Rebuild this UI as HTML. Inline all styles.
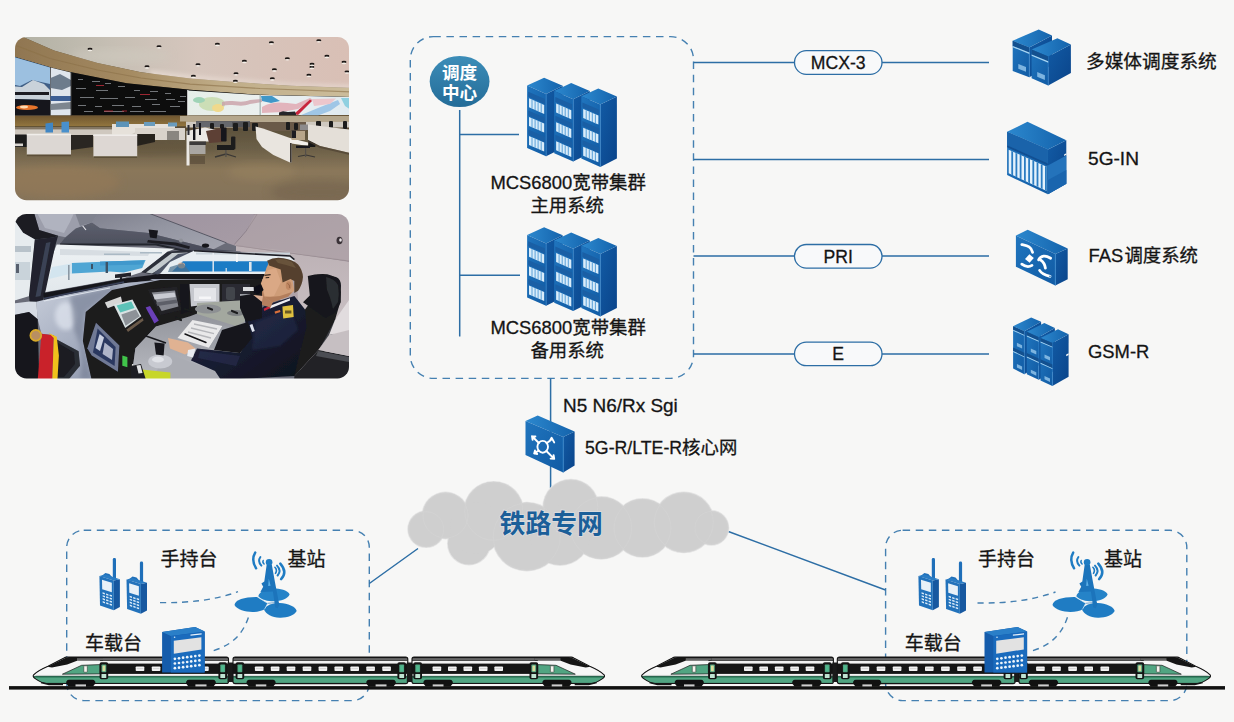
<!DOCTYPE html>
<html lang="zh">
<head>
<meta charset="utf-8">
<title>MCS6800 宽带集群调度系统组网图</title>
<style>
html,body{margin:0;padding:0;background:#f7f7f6}
body{width:1234px;height:722px;overflow:hidden;font-family:"Liberation Sans","Noto Sans CJK SC",sans-serif}
svg{display:block;position:absolute;left:0;top:0}
text{font-family:"Liberation Sans","Noto Sans CJK SC",sans-serif}
</style>
</head>
<body>
<svg width="1234" height="722" viewBox="0 0 1234 722" font-family="Liberation Sans, Noto Sans CJK SC, sans-serif">
<defs>

<clipPath id="cpP1"><rect x="15" y="37" width="334" height="163.2" rx="11.5"/></clipPath>
<clipPath id="cpP2"><rect x="15" y="214" width="334" height="164.4" rx="11.5"/></clipPath>
<filter id="bl05" x="-5%" y="-5%" width="110%" height="110%"><feGaussianBlur stdDeviation="0.5"/></filter>
<filter id="bl1" x="-10%" y="-10%" width="120%" height="120%"><feGaussianBlur stdDeviation="1"/></filter>
<filter id="bl2" x="-10%" y="-10%" width="120%" height="120%"><feGaussianBlur stdDeviation="2"/></filter>
<filter id="bl4" x="-20%" y="-20%" width="140%" height="140%"><feGaussianBlur stdDeviation="4"/></filter>
<linearGradient id="p1Floor" gradientUnits="userSpaceOnUse" x1="0" y1="126" x2="0" y2="200"><stop offset="0" stop-color="#5a4f3a"/><stop offset="0.3" stop-color="#6b5f47"/><stop offset="0.6" stop-color="#8a775a"/><stop offset="1" stop-color="#84725a"/></linearGradient>
<linearGradient id="p1Ceil" x1="0" y1="0" x2="1" y2="0"><stop offset="0" stop-color="#b0b0a3"/><stop offset="0.3" stop-color="#c6bfb4"/><stop offset="0.55" stop-color="#d6c6bd"/><stop offset="1" stop-color="#d9bfb5"/></linearGradient>
<linearGradient id="p1Wood" x1="0" y1="0" x2="1" y2="0"><stop offset="0" stop-color="#8f7550"/><stop offset="0.35" stop-color="#a58b62"/><stop offset="0.62" stop-color="#c0ad88"/><stop offset="1" stop-color="#ccbd9c"/></linearGradient>
<linearGradient id="p1Wood2" x1="0" y1="0" x2="0" y2="1"><stop offset="0" stop-color="#6f5630"/><stop offset="1" stop-color="#93763f"/></linearGradient>
<linearGradient id="p1Map" x1="0" y1="0" x2="1" y2="0"><stop offset="0" stop-color="#e6eee8"/><stop offset="0.5" stop-color="#ecf0f0"/><stop offset="1" stop-color="#dfeaf0"/></linearGradient>

<linearGradient id="p2Cowl" x1="0" y1="0" x2="1" y2="1"><stop offset="0" stop-color="#c9cfdb"/><stop offset="0.45" stop-color="#a7afc1"/><stop offset="1" stop-color="#8089a0"/></linearGradient>
<linearGradient id="p2Visor" x1="0" y1="0" x2="0" y2="1"><stop offset="0" stop-color="#5d606d"/><stop offset="1" stop-color="#474a58"/></linearGradient>
<linearGradient id="p2Strip" x1="0" y1="0" x2="1" y2="1"><stop offset="0" stop-color="#7c7e8b"/><stop offset="0.5" stop-color="#9496a2"/><stop offset="1" stop-color="#a4a5b0"/></linearGradient>
<linearGradient id="p2Ceil" x1="0" y1="0" x2="1" y2="1"><stop offset="0" stop-color="#9d93a0"/><stop offset="1" stop-color="#b3a6ab"/></linearGradient>
<linearGradient id="p2Wall" x1="0" y1="0" x2="0" y2="1"><stop offset="0" stop-color="#bcb1b5"/><stop offset="1" stop-color="#d2cacc"/></linearGradient>
<linearGradient id="p2Desk" x1="0" y1="0" x2="0" y2="1"><stop offset="0" stop-color="#8a8c93"/><stop offset="1" stop-color="#b9bbc2"/></linearGradient>
<linearGradient id="p2Jacket" x1="0" y1="0" x2="1" y2="1"><stop offset="0" stop-color="#222743"/><stop offset="0.6" stop-color="#161a2d"/><stop offset="1" stop-color="#0e101b"/></linearGradient>
<linearGradient id="p2Wind" x1="0" y1="0" x2="0" y2="1"><stop offset="0" stop-color="#eef2f4"/><stop offset="1" stop-color="#e2e8ec"/></linearGradient>


<linearGradient id="gCircle" x1="0" y1="0" x2="0" y2="1"><stop offset="0" stop-color="#3c8db8"/><stop offset="1" stop-color="#246c98"/></linearGradient>
<linearGradient id="gFront" x1="0" y1="0" x2="1" y2="1"><stop offset="0" stop-color="#2075be"/><stop offset="1" stop-color="#115ba4"/></linearGradient>
<linearGradient id="gTop" x1="0" y1="0" x2="1" y2="0"><stop offset="0" stop-color="#2c88ce"/><stop offset="1" stop-color="#1463ac"/></linearGradient>
<linearGradient id="gSide" x1="0" y1="0" x2="1" y2="1"><stop offset="0" stop-color="#125ba5"/><stop offset="1" stop-color="#0a448a"/></linearGradient>
<linearGradient id="gCloud" x1="0" y1="0" x2="0" y2="1"><stop offset="0" stop-color="#d4d4d4"/><stop offset="1" stop-color="#c8c8c8"/></linearGradient>
<g id="racks3"><polygon points="546.1,93.9 562.7,85.8 562.7,147.9 546.1,156.2" fill="url(#gSide)"/><polygon points="527.1,85.6 544.1,77.8 562.7,85.8 546.1,93.9" fill="url(#gTop)"/><polygon points="527.1,85.6 546.1,93.9 546.1,156.2 527.1,147.9" fill="url(#gFront)"/><path d="M546.1 93.9V156.2" stroke="#3a8fd6" stroke-width="0.6"/><polygon points="528.2,91.7 545.0,99.0 545.0,104.0 528.2,96.7" fill="#1a5fa5"/><polygon points="529.0,98.3 544.2,104.9 544.2,113.9 529.0,107.3" fill="#d9ecfa"/><path d="M532.0 99.6L532.0 108.6" stroke="#4b97d4" stroke-width="0.9"/><path d="M535.1 100.9L535.1 110.0" stroke="#4b97d4" stroke-width="0.9"/><path d="M538.1 102.3L538.1 111.3" stroke="#4b97d4" stroke-width="0.9"/><path d="M541.2 103.6L541.2 112.6" stroke="#4b97d4" stroke-width="0.9"/><polygon points="528.2,110.4 545.0,117.7 545.0,122.7 528.2,115.4" fill="#1a5fa5"/><polygon points="529.0,117.0 544.2,123.6 544.2,132.6 529.0,126.0" fill="#d9ecfa"/><path d="M532.0 118.3L532.0 127.3" stroke="#4b97d4" stroke-width="0.9"/><path d="M535.1 119.6L535.1 128.6" stroke="#4b97d4" stroke-width="0.9"/><path d="M538.1 120.9L538.1 130.0" stroke="#4b97d4" stroke-width="0.9"/><path d="M541.2 122.3L541.2 131.3" stroke="#4b97d4" stroke-width="0.9"/><polygon points="528.2,129.4 545.0,136.7 545.0,141.7 528.2,134.4" fill="#1a5fa5"/><polygon points="529.0,136.0 544.2,142.6 544.2,151.6 529.0,145.0" fill="#d9ecfa"/><path d="M532.0 137.3L532.0 146.3" stroke="#4b97d4" stroke-width="0.9"/><path d="M535.1 138.6L535.1 147.6" stroke="#4b97d4" stroke-width="0.9"/><path d="M538.1 139.9L538.1 149.0" stroke="#4b97d4" stroke-width="0.9"/><path d="M541.2 141.3L541.2 150.3" stroke="#4b97d4" stroke-width="0.9"/><polygon points="573.2,99.2 589.8,91.1 589.8,153.2 573.2,161.5" fill="url(#gSide)"/><polygon points="554.2,90.9 571.2,83.1 589.8,91.1 573.2,99.2" fill="url(#gTop)"/><polygon points="554.2,90.9 573.2,99.2 573.2,161.5 554.2,153.2" fill="url(#gFront)"/><path d="M573.2 99.2V161.5" stroke="#3a8fd6" stroke-width="0.6"/><polygon points="555.3,97.0 572.1,104.3 572.1,109.3 555.3,102.0" fill="#1a5fa5"/><polygon points="556.1,103.6 571.3,110.2 571.3,119.2 556.1,112.6" fill="#d9ecfa"/><path d="M559.1 104.9L559.1 113.9" stroke="#4b97d4" stroke-width="0.9"/><path d="M562.2 106.2L562.2 115.3" stroke="#4b97d4" stroke-width="0.9"/><path d="M565.2 107.6L565.2 116.6" stroke="#4b97d4" stroke-width="0.9"/><path d="M568.3 108.9L568.3 117.9" stroke="#4b97d4" stroke-width="0.9"/><polygon points="555.3,115.7 572.1,123.0 572.1,128.0 555.3,120.7" fill="#1a5fa5"/><polygon points="556.1,122.3 571.3,128.9 571.3,137.9 556.1,131.3" fill="#d9ecfa"/><path d="M559.1 123.6L559.1 132.6" stroke="#4b97d4" stroke-width="0.9"/><path d="M562.2 124.9L562.2 133.9" stroke="#4b97d4" stroke-width="0.9"/><path d="M565.2 126.2L565.2 135.3" stroke="#4b97d4" stroke-width="0.9"/><path d="M568.3 127.6L568.3 136.6" stroke="#4b97d4" stroke-width="0.9"/><polygon points="555.3,134.7 572.1,142.0 572.1,147.0 555.3,139.7" fill="#1a5fa5"/><polygon points="556.1,141.3 571.3,147.9 571.3,156.9 556.1,150.3" fill="#d9ecfa"/><path d="M559.1 142.6L559.1 151.6" stroke="#4b97d4" stroke-width="0.9"/><path d="M562.2 143.9L562.2 152.9" stroke="#4b97d4" stroke-width="0.9"/><path d="M565.2 145.2L565.2 154.3" stroke="#4b97d4" stroke-width="0.9"/><path d="M568.3 146.6L568.3 155.6" stroke="#4b97d4" stroke-width="0.9"/><polygon points="600.3,104.6 616.9,96.5 616.9,158.6 600.3,166.9" fill="url(#gSide)"/><polygon points="581.3,96.3 598.3,88.5 616.9,96.5 600.3,104.6" fill="url(#gTop)"/><polygon points="581.3,96.3 600.3,104.6 600.3,166.9 581.3,158.6" fill="url(#gFront)"/><path d="M600.3 104.6V166.9" stroke="#3a8fd6" stroke-width="0.6"/><polygon points="582.4,102.4 599.2,109.7 599.2,114.7 582.4,107.4" fill="#1a5fa5"/><polygon points="583.2,109.0 598.4,115.6 598.4,124.6 583.2,118.0" fill="#d9ecfa"/><path d="M586.2 110.3L586.2 119.3" stroke="#4b97d4" stroke-width="0.9"/><path d="M589.3 111.6L589.3 120.7" stroke="#4b97d4" stroke-width="0.9"/><path d="M592.3 113.0L592.3 122.0" stroke="#4b97d4" stroke-width="0.9"/><path d="M595.4 114.3L595.4 123.3" stroke="#4b97d4" stroke-width="0.9"/><polygon points="582.4,121.1 599.2,128.4 599.2,133.4 582.4,126.1" fill="#1a5fa5"/><polygon points="583.2,127.7 598.4,134.3 598.4,143.3 583.2,136.7" fill="#d9ecfa"/><path d="M586.2 129.0L586.2 138.0" stroke="#4b97d4" stroke-width="0.9"/><path d="M589.3 130.3L589.3 139.3" stroke="#4b97d4" stroke-width="0.9"/><path d="M592.3 131.6L592.3 140.7" stroke="#4b97d4" stroke-width="0.9"/><path d="M595.4 133.0L595.4 142.0" stroke="#4b97d4" stroke-width="0.9"/><polygon points="582.4,140.1 599.2,147.4 599.2,152.4 582.4,145.1" fill="#1a5fa5"/><polygon points="583.2,146.7 598.4,153.3 598.4,162.3 583.2,155.7" fill="#d9ecfa"/><path d="M586.2 148.0L586.2 157.0" stroke="#4b97d4" stroke-width="0.9"/><path d="M589.3 149.3L589.3 158.3" stroke="#4b97d4" stroke-width="0.9"/><path d="M592.3 150.6L592.3 159.7" stroke="#4b97d4" stroke-width="0.9"/><path d="M595.4 152.0L595.4 161.0" stroke="#4b97d4" stroke-width="0.9"/></g>

</defs>
<rect width="1234" height="722" fill="#f7f7f6"/>
<g clip-path="url(#cpP1)"><g filter="url(#bl05)">
<rect x="10" y="32" width="344" height="173" fill="url(#p1Floor)"/>
<ellipse cx="60" cy="182" rx="60" ry="16" fill="#9a7b58" opacity="0.45" filter="url(#bl4)"/><ellipse cx="262" cy="172" rx="34" ry="9" fill="#9a8460" opacity="0.5" filter="url(#bl4)"/>
<ellipse cx="120" cy="148" rx="100" ry="8" fill="#5f4f39" opacity="0.35" filter="url(#bl2)"/>
<ellipse cx="320" cy="192" rx="50" ry="12" fill="#6f6049" opacity="0.5" filter="url(#bl4)"/>
<path d="M10 30H354V90L349 87.7L290 85.8L230 81.7L190 78.5L141 72.3L97.5 63L54 50.5L23 37L10 30Z" fill="url(#p1Ceil)"/>
<path d="M150 70L190 75L230 78.5L290 83L354 85V90L150 78Z" fill="#e8dbd3" opacity="0.8" filter="url(#bl2)"/>
<ellipse cx="120" cy="56" rx="50" ry="7" fill="#cfcabf" opacity="0.6" filter="url(#bl4)"/>
<path d="M10 30L23 37L54 50.5L97.5 63L141 72.3L190 78.5L230 81.7L290 85.8L354 88V97L260 94.8L190 89.8L126.7 83.2L71.3 72.3L50 67.2L15 57L10 55Z" fill="url(#p1Wood)"/>
<path d="M12 44L50 58.5L97.5 70L141 78L190 84.2L260 88.5L354 92" fill="none" stroke="#8a7048" stroke-width="1.2" opacity="0.6"/>
<path d="M10 55L15 57L50 67.2L71.3 72.3L126.7 83.2L190 89.8L260 94.8L354 97V115L10 115.6Z" fill="#0b0b0c"/>
<path d="M10 55L15 57L50 67.2V115.4H10Z" fill="#3f5f86"/>
<path d="M10 56L50 67.6V84L32 80L20 86L10 84Z" fill="#9cc0e0"/>
<path d="M10 86L22 87L33 80L44 84L50 90V100L10 99Z" fill="#c9d2da"/>
<path d="M10 99L50 100V115.4H10Z" fill="#15181f"/>
<ellipse cx="27" cy="107.5" rx="11" ry="2.6" fill="#e8742c"/><ellipse cx="24" cy="107" rx="4" ry="1.4" fill="#ffd9b0"/>
<path d="M15 92H49V95H15Z" fill="#1a1d24"/>
<path d="M50.6 67.6L71 72.4V115.4H50.6Z" fill="#dfe5ec"/>
<path d="M50.6 78L60 74L71 80V86L62 90L50.6 88Z" fill="#6d7b8c"/><path d="M50.6 96H71V101H50.6Z" fill="#3c5f94"/><path d="M50.6 104L71 102V109L50.6 110Z" fill="#7d868f"/>
<rect x="78" y="79" width="5" height="1" fill="#c9ccd4" opacity="0.55"/>
<rect x="92" y="81" width="8" height="1" fill="#c9ccd4" opacity="0.55"/>
<rect x="105" y="83" width="6" height="1" fill="#c9ccd4" opacity="0.55"/>
<rect x="76" y="88" width="10" height="1" fill="#c9ccd4" opacity="0.55"/>
<rect x="96" y="90" width="12" height="1" fill="#c9ccd4" opacity="0.55"/>
<rect x="118" y="86" width="7" height="1" fill="#c9ccd4" opacity="0.55"/>
<rect x="134" y="90" width="6" height="1" fill="#c9ccd4" opacity="0.55"/>
<rect x="150" y="91" width="8" height="1" fill="#c9ccd4" opacity="0.55"/>
<rect x="165" y="93" width="6" height="1" fill="#c9ccd4" opacity="0.55"/>
<rect x="80" y="97" width="14" height="1" fill="#c9ccd4" opacity="0.55"/>
<rect x="100" y="98" width="18" height="1" fill="#c9ccd4" opacity="0.55"/>
<rect x="125" y="97" width="10" height="1" fill="#c9ccd4" opacity="0.55"/>
<rect x="145" y="99" width="12" height="1" fill="#c9ccd4" opacity="0.55"/>
<rect x="166" y="99" width="9" height="1" fill="#c9ccd4" opacity="0.55"/>
<rect x="78" y="105" width="8" height="1" fill="#c9ccd4" opacity="0.55"/>
<rect x="95" y="106" width="7" height="1" fill="#c9ccd4" opacity="0.55"/>
<rect x="112" y="105" width="12" height="1" fill="#c9ccd4" opacity="0.55"/>
<rect x="132" y="106" width="9" height="1" fill="#c9ccd4" opacity="0.55"/>
<rect x="152" y="104" width="8" height="1" fill="#c9ccd4" opacity="0.55"/>
<rect x="170" y="106" width="10" height="1" fill="#c9ccd4" opacity="0.55"/>
<rect x="180" y="96" width="6" height="1" fill="#c9ccd4" opacity="0.55"/>
<rect x="178" y="101" width="7" height="1" fill="#c9ccd4" opacity="0.55"/>
<rect x="84" y="111" width="9" height="1" fill="#c9ccd4" opacity="0.55"/>
<rect x="104" y="111" width="20" height="1" fill="#c9ccd4" opacity="0.55"/>
<rect x="130" y="111" width="14" height="1" fill="#c9ccd4" opacity="0.55"/>
<rect x="150" y="111" width="16" height="1" fill="#c9ccd4" opacity="0.55"/>
<rect x="96" y="85" width="8" height="1" fill="#c0303a" opacity="0.8"/>
<rect x="140" y="94" width="10" height="1" fill="#c0303a" opacity="0.8"/>
<rect x="104" y="110.5" width="9" height="1" fill="#c0303a" opacity="0.8"/>
<rect x="122" y="110.5" width="5" height="1" fill="#c0303a" opacity="0.8"/>
<rect x="70.6" y="72" width="1.4" height="44" fill="#2a2a2a"/>
<path d="M188 90.6L260 95L354 97V115L188 115.7Z" fill="url(#p1Map)"/>
<ellipse cx="212" cy="104" rx="13" ry="7" fill="#c9dcb0" opacity="0.9"/><ellipse cx="218" cy="108" rx="6" ry="4" fill="#f0d98c"/><ellipse cx="199" cy="100" rx="6" ry="3" fill="#9fd3b6"/>
<path d="M222 102C232 99 240 104 250 100L262 99V102L250 104C240 108 232 103 222 106Z" fill="#c9a0a8" opacity="0.8"/>
<path d="M261 96H272L280 101L271 103L262 101Z" fill="#3f97c8"/>
<path d="M262 107C274 100 284 103 296 104L310 98L313 100L298 109L282 112L262 113Z" fill="#e2b4bc"/>
<path d="M294 114L310 99.5L312 101L298 115Z" fill="#c8283c"/>
<path d="M300 115.5L318 108L338 100L340 104L330 111L318 115.5Z" fill="#9fc6e6"/>
<path d="M312 99L336 98.5L330 104L314 106Z" fill="#ecc6cc"/>
<path d="M341 98L354 98V112L345 106Z" fill="#8fd0e0"/>
<rect x="259.6" y="94.5" width="1.1" height="21" fill="#9aa"/>
<path d="M279 115.6V112.4L283 111.2L288 112L295 111.4L296.5 115.6Z" fill="#26262c"/>
<rect x="187.2" y="90" width="1.2" height="26" fill="#eee"/>
<rect x="10" y="115.5" width="344" height="11" fill="url(#p1Wood2)"/>
<path d="M180 116H354V121.5H180Z" fill="#bfb49c" opacity="0.85"/>
<rect x="10" y="127" width="130" height="9" fill="#cfc8bf"/>
<rect x="10" y="126" width="344" height="3.4" fill="#5b4a32" opacity="0.65"/>
<path d="M112 124H175V130H140L130 135H112Z" fill="#e6e1da"/>
<path d="M135 128H185V140H150L135 136Z" fill="#d9d3cb"/>
<rect x="167" y="131" width="12" height="9" fill="#8a8680"/>
<path d="M186 121.5H354V127.5H186Z" fill="#cfc9c0"/>
<path d="M232 122H306V131H256L232 127Z" fill="#6a5a48"/>
<path d="M196 121H250V127H196Z" fill="#4b4f58" opacity="0.8"/>
<rect x="233" y="123" width="5" height="8" rx="1" fill="#1d1c1e"/>
<rect x="243" y="122" width="5" height="9" rx="1" fill="#1d1c1e"/>
<rect x="252" y="123" width="6" height="8" rx="1" fill="#1d1c1e"/>
<rect x="286" y="122" width="4" height="8" rx="1" fill="#1d1c1e"/>
<rect x="294" y="123" width="4" height="7" rx="1" fill="#1d1c1e"/>
<rect x="316" y="121" width="5" height="6" rx="1" fill="#1d1c1e"/>
<rect x="329" y="121" width="4" height="7" rx="1" fill="#1d1c1e"/>
<rect x="343" y="121" width="4" height="8" rx="1" fill="#1d1c1e"/>
<rect x="210" y="123" width="4" height="8" rx="1" fill="#1d1c1e"/>
<rect x="220" y="124" width="4" height="7" rx="1" fill="#1d1c1e"/>
<path d="M45.5 123.5L53 122.5V132.5H45.5Z" fill="#3f86c4"/><path d="M61.5 122L69 121.5V132.5H61.5Z" fill="#4a90cc"/>
<rect x="116" y="121.5" width="13" height="5.5" fill="#5b93b8"/><rect x="144" y="122" width="11" height="4" fill="#6a9cbd"/><rect x="168" y="122.5" width="9" height="4" fill="#6a9cbd"/>
<path d="M15 134.5H27V147H15Z" fill="#1b1a1c"/><path d="M71 135H93V147L71 150Z" fill="#2a2622"/><path d="M137 134H155V142L137 146Z" fill="#28231f"/>
<rect x="15" y="143.5" width="8" height="2.6" fill="#d8d4cf"/>
<rect x="26.8" y="133.8" width="44.2" height="20.8" fill="#dcd7d3"/><rect x="26.8" y="133.8" width="44.2" height="1.5" fill="#f1eeeb"/>
<rect x="93.4" y="134.4" width="43.8" height="22" fill="#ddd7d3"/><rect x="93.4" y="134.4" width="43.8" height="1.5" fill="#f1eeeb"/>
<rect x="27" y="154.6" width="44" height="1.6" fill="#4d3f2c" opacity="0.6"/><rect x="94" y="156.4" width="43" height="1.6" fill="#4d3f2c" opacity="0.6"/>
<path d="M186.5 131L205 127.5L222 131L210.5 141.5H189.5V165.5H186.5Z" fill="#ece9e5"/>
<rect x="189.5" y="145" width="16" height="9" fill="#a9a6a2"/><path d="M189.5 141.5H206V145H189.5Z" fill="#3c3a3a"/>
<path d="M190 156H205V164H190Z" fill="#5a4c3a" opacity="0.7"/>
<rect x="193" y="124" width="2.4" height="16" fill="#15161a"/><rect x="199" y="123" width="2" height="12" fill="#15161a"/><rect x="187.5" y="125" width="2" height="10" fill="#2a2c33"/>
<path d="M206 131L222 128L226 133L222 142L209 143Z" fill="#5d3f34"/>
<rect x="221" y="127.5" width="5.6" height="14" rx="1" fill="#17171a"/>
<path d="M217 145H234V150H217Z" fill="#1a1a1c"/><rect x="231" y="136.5" width="4.4" height="13" rx="1" fill="#1c1c1f"/>
<path d="M215 157L226 154L236 157" fill="none" stroke="#3a3734" stroke-width="1.3"/><rect x="225.2" y="150" width="1.4" height="7" fill="#55504a"/>
<path d="M255.5 126.5L263 128.5L290 138V162.5L273.4 155L262 147L256.5 139Z" fill="#e9e5df"/>
<path d="M290 138L308 142.5V146L291.5 143.5V162.5H290Z" fill="#f2efeb"/><rect x="290" y="143" width="1.6" height="19.5" fill="#3a3530"/>
<path d="M291.5 131H305V140H291.5Z" fill="#b7a58a"/><rect x="300" y="124.5" width="8" height="5.5" fill="#8d8b8c"/>
<rect x="308.5" y="134" width="7" height="13" rx="1" fill="#141416"/><path d="M296 145.5H310V148H296Z" fill="#19191b"/><rect x="291.6" y="130.5" width="4.4" height="7.5" fill="#1d1d20"/>
<path d="M298 156.5L306 155L315 157" fill="none" stroke="#3a3734" stroke-width="1.2"/><rect x="305" y="148" width="1.2" height="9" fill="#55504a"/>
<path d="M308 124.5L354 130V154L320 146L308 140Z" fill="#e4dfd8"/><path d="M308 140L320 146L354 154V156L320 148L308 142Z" fill="#4f4232" opacity="0.7"/>
<ellipse cx="90" cy="49" rx="2.5" ry="1.2" fill="#1a1815"/><ellipse cx="90" cy="50.4" rx="2.2" ry="0.8" fill="#fbf6f0" opacity="0.9"/>
<ellipse cx="159" cy="46.4" rx="2.5" ry="1.2" fill="#1a1815"/><ellipse cx="159" cy="47.8" rx="2.2" ry="0.8" fill="#fbf6f0" opacity="0.9"/>
<ellipse cx="217.4" cy="44" rx="2.5" ry="1.2" fill="#1a1815"/><ellipse cx="217.4" cy="45.4" rx="2.2" ry="0.8" fill="#fbf6f0" opacity="0.9"/>
<ellipse cx="271.4" cy="42.5" rx="2.5" ry="1.2" fill="#1a1815"/><ellipse cx="271.4" cy="43.9" rx="2.2" ry="0.8" fill="#fbf6f0" opacity="0.9"/>
<ellipse cx="318.8" cy="40.4" rx="2.5" ry="1.2" fill="#1a1815"/><ellipse cx="318.8" cy="41.8" rx="2.2" ry="0.8" fill="#fbf6f0" opacity="0.9"/>
<ellipse cx="147" cy="66.5" rx="2.5" ry="1.2" fill="#1a1815"/><ellipse cx="147" cy="67.9" rx="2.2" ry="0.8" fill="#fbf6f0" opacity="0.9"/>
<ellipse cx="198" cy="64.4" rx="2.5" ry="1.2" fill="#1a1815"/><ellipse cx="198" cy="65.80000000000001" rx="2.2" ry="0.8" fill="#fbf6f0" opacity="0.9"/>
<ellipse cx="244.4" cy="61" rx="2.5" ry="1.2" fill="#1a1815"/><ellipse cx="244.4" cy="62.4" rx="2.2" ry="0.8" fill="#fbf6f0" opacity="0.9"/>
<ellipse cx="287.3" cy="58.4" rx="2.5" ry="1.2" fill="#1a1815"/><ellipse cx="287.3" cy="59.8" rx="2.2" ry="0.8" fill="#fbf6f0" opacity="0.9"/>
<ellipse cx="326.9" cy="56" rx="2.5" ry="1.2" fill="#1a1815"/><ellipse cx="326.9" cy="57.4" rx="2.2" ry="0.8" fill="#fbf6f0" opacity="0.9"/>
<ellipse cx="193.4" cy="76" rx="2.5" ry="1.2" fill="#1a1815"/><ellipse cx="193.4" cy="77.4" rx="2.2" ry="0.8" fill="#fbf6f0" opacity="0.9"/>
<ellipse cx="236" cy="73.4" rx="2.5" ry="1.2" fill="#1a1815"/><ellipse cx="236" cy="74.80000000000001" rx="2.2" ry="0.8" fill="#fbf6f0" opacity="0.9"/>
<ellipse cx="274.4" cy="69.5" rx="2.5" ry="1.2" fill="#1a1815"/><ellipse cx="274.4" cy="70.9" rx="2.2" ry="0.8" fill="#fbf6f0" opacity="0.9"/>
<ellipse cx="311.9" cy="67" rx="2.5" ry="1.2" fill="#1a1815"/><ellipse cx="311.9" cy="68.4" rx="2.2" ry="0.8" fill="#fbf6f0" opacity="0.9"/>
<ellipse cx="347" cy="71.6" rx="2.5" ry="1.2" fill="#1a1815"/><ellipse cx="347" cy="73.0" rx="2.2" ry="0.8" fill="#fbf6f0" opacity="0.9"/>
<ellipse cx="235.4" cy="80.9" rx="2.5" ry="1.2" fill="#1a1815"/><ellipse cx="235.4" cy="82.30000000000001" rx="2.2" ry="0.8" fill="#fbf6f0" opacity="0.9"/>
<ellipse cx="272.3" cy="78.5" rx="2.5" ry="1.2" fill="#1a1815"/><ellipse cx="272.3" cy="79.9" rx="2.2" ry="0.8" fill="#fbf6f0" opacity="0.9"/>
<ellipse cx="308.9" cy="74.9" rx="2.5" ry="1.2" fill="#1a1815"/><ellipse cx="308.9" cy="76.30000000000001" rx="2.2" ry="0.8" fill="#fbf6f0" opacity="0.9"/>
<ellipse cx="312" cy="64" rx="2.5" ry="1.2" fill="#1a1815"/><ellipse cx="312" cy="65.4" rx="2.2" ry="0.8" fill="#fbf6f0" opacity="0.9"/>
<ellipse cx="344" cy="62" rx="2.5" ry="1.2" fill="#1a1815"/><ellipse cx="344" cy="63.4" rx="2.2" ry="0.8" fill="#fbf6f0" opacity="0.9"/>
</g></g>
<g clip-path="url(#cpP2)"><g filter="url(#bl05)">
<rect x="10" y="210" width="344" height="173" fill="#6a6c78"/>
<path d="M138 210H354V300H280L236 246L226.4 242.8Z" fill="url(#p2Ceil)"/>
<path d="M236 245.5L280 250L349 262V378H300L297 268L290 256L236 251Z" fill="url(#p2Wall)"/>
<path d="M236 245.5L349 261" stroke="#8d8088" stroke-width="1.1" fill="none"/>
<path d="M237.6 210L257 214.4L246 231.4L234.5 244.4" stroke="#7a6f7a" stroke-width="0.8" fill="none"/>
<path d="M257 210L246 231.4L234.5 244.4L236 246L354 262V210Z" fill="#b3a6aa" opacity="0.55"/>
<ellipse cx="339.5" cy="240.5" rx="3" ry="3.8" fill="#3a3338"/><ellipse cx="340.5" cy="240" rx="1.3" ry="1.8" fill="#e9e4e6"/>
<path d="M88 210H140.5L226.4 242.8L213.5 249.3L148.6 233L100 228.2L91.7 222.6Z" fill="url(#p2Strip)"/>
<path d="M140.5 210L226.4 242.8" stroke="#3d3f4c" stroke-width="1" fill="none" opacity="0.7"/>
<path d="M59.6 244.5L65.4 237.2L75.6 228.4L91.7 222.6L100 228.2L148.6 233L213.5 249.3L236 251L190.8 252.4L177.8 250L156 244.5Z" fill="url(#p2Visor)"/>
<path d="M60 244.5L156 244.5L190 252" stroke="#23252d" stroke-width="2.2" fill="none"/>
<path d="M148.6 229.5l9.4 1 -1.4 8 -6.6 -1z" fill="#16171c"/><path d="M148 240l28 2.6 14 4 -1 2.4 -14 -3.4 -28 -3z" fill="#1b1c22"/><circle cx="181" cy="240.4" r="2" fill="#8f929a"/><ellipse cx="205.5" cy="245.6" rx="3.6" ry="2.2" fill="#17181d"/><path d="M82 225l4 5" stroke="#e6e6ea" stroke-width="1.2"/>
<path d="M33 210H101L91.7 222.6L75.6 228.4L65.4 237.2L58.1 235.7L39.2 229.9Z" fill="#9c9eab"/>
<path d="M37 213H74L70 222L64 233L45 228Z" fill="#b4b6c2" opacity="0.85"/><path d="M74 210H101L91.7 222.6L80 226Z" fill="#6d6f7c" opacity="0.6"/>
<path d="M10 210H33.3L39.2 229.9L58.1 235.7L53.8 237.4L34.8 239.6L23.1 232.8L15.8 222.6L10 220Z" fill="#1b1c23"/>
<path d="M10 218L16 222.6L23.1 232.8L35 239.5L29.5 296L10 302Z" fill="#e6ebee"/>
<path d="M15 246H31V252H15Z" fill="#b8c2ca"/><path d="M15 262H30V280H15Z" fill="#c9d3da"/><rect x="16" y="264" width="3" height="9" fill="#58616e"/>
<path d="M56.7 244.5L174.8 248.8L167.5 251.8L141.3 272.2L123.8 278L43.5 292.6L45 280.9L53.8 251.8Z" fill="url(#p2Wind)"/>
<path d="M60 249L150 252L148 256L60 255Z" fill="#d7dde2"/>
<path d="M71.8 262.9L145.6 260L142.2 268.1L123.8 272.6L109.7 271.4L71.8 273.4Z" fill="#4fa6d4"/>
<path d="M52 267L71.8 263.4V273.4L49 279Z" fill="#d3e5ef"/>
<path d="M100 261.6L144 260.4L143 264.6L100 265.6Z" fill="#3f98cc"/>
<rect x="68" y="265" width="1.6" height="15" fill="#8b98a4"/><rect x="105.6" y="262" width="2.4" height="11" fill="#3d5266"/><rect x="91" y="264" width="2" height="5" fill="#3d5266"/>
<path d="M104 253.5h26v1.6h-26zM140 252h22v1.6h-22z" fill="#aab9c4"/>
<path d="M115 274.5L131 272.5V276L122 277.5V286H120V277.8L115 278Z" fill="#20222a"/>
<path d="M53.8 237.2L58.1 235.7L55.2 245.9L45.8 290L42.5 302H29.6L29 295.5L34.8 239.4Z" fill="#22242d"/>
<path d="M46 243L50.5 242L40.5 296L35.5 297Z" fill="#3d4759" opacity="0.9"/>
<path d="M167.5 251.8L190 250L198 252L176 262L155.9 275L141.3 272.2Z" fill="#2b2e38"/>
<path d="M172 253L188 252.5L152 273.5L146 272.5Z" fill="#dfe6ea" opacity="0.85"/>
<path d="M178 254L194 252L158 274L153 273.6Z" fill="#4d5466"/>
<path d="M170 262L194 250.7L290 256L294.4 259.7L289 274H160Z" fill="#e7edf1"/>
<path d="M183 261.3H268V271.6H172Z" fill="#1f7bc5"/>
<path d="M196 252.5H290V254.6H196Z" fill="#c9d3da"/>
<rect x="212.5" y="252" width="1.4" height="20" fill="#e9eef2"/><rect x="236" y="253" width="1.8" height="9" fill="#f4f6f8"/><rect x="249" y="262" width="2.6" height="9" fill="#dfe6ec"/><rect x="225.6" y="268" width="1.2" height="4" fill="#dfe6ec"/>
<ellipse cx="181.5" cy="265.5" rx="3.6" ry="3" fill="#d9b49c"/><path d="M170 267L183 263L190 272H168Z" fill="#4a6f8c" opacity="0.7"/>
<path d="M194 250.7L290 256L294.4 259.7" stroke="#1d1f25" stroke-width="1.6" fill="none"/>
<path d="M43.5 293L123.8 278.4L160 274H290V279.5L165 279L126 283L60 296L44 302Z" fill="#17181d"/>
<path d="M150 279L262 279L262 288L190 290L160 284Z" fill="#9aa0b0"/>
<path d="M36.3 301.7L60 296L126 283L160 280L112 292L85.8 311.9L82.9 341L91.7 380H66L80 365.8L78.6 351.3L56.7 339.6L53.8 335.2L41.4 333.8L37.7 319.2Z" fill="url(#p2Cowl)"/>
<ellipse cx="66" cy="316" rx="11" ry="14" fill="#dfe4ee" opacity="0.75" filter="url(#bl2)"/>
<path d="M70 296L124 284L112 292L86 312L83 341L91.7 380H80L82 362L80 345L74 330L72 310Z" fill="#7a8398" opacity="0.7" filter="url(#bl2)"/>
<path d="M44 298.5L124 282" stroke="#39415a" stroke-width="1.6" fill="none"/><path d="M44 301L110 288" stroke="#e9edf4" stroke-width="1.2" fill="none" opacity="0.8"/>
<path d="M10 304L29.6 301.5L36.3 301.7L37.7 319.2L29 312L10 316Z" fill="#d6dbe3"/>
<path d="M10 316L29 311.9L37.7 319.2L39.2 380H10Z" fill="#14151b"/>
<path d="M56.7 339.6L78.6 351.3L80 365.8L68.3 380H56Z" fill="#2a2d36"/><path d="M58 343L74 352.5L75 364L64 377H58Z" fill="#1a1c23"/>
<path d="M41.4 333.8L53.8 335.2L52.3 380H37.7Z" fill="#c9202c"/>
<path d="M48.7 333L56.7 336.7L58.9 355.6L57.4 380H52.3L53.8 338Z" fill="#f0c21c"/>
<circle cx="35.8" cy="335.4" r="5.4" fill="#b98f62" stroke="#d9aa2c" stroke-width="1.8"/>
<path d="M112 290L160 280L262 279V300L190 319.2L155.9 326.5L135.4 348.3L131.1 380H91.7L82.9 341L85.8 311.9Z" fill="#1b1a1d"/>
<path d="M104.8 302.4L120.9 296.6L122.3 302.4L107.7 308.2Z" fill="#d6d6d6"/>
<path d="M113.6 304.6L132.5 299.5L141.3 316.3L125.2 327.9Z" fill="#d9e2e3"/><path d="M116.6 305.6L131.3 301.6L134.5 308L120.3 312.6Z" fill="#5cc2b8"/><path d="M121.3 314.6L136 309.6L139.8 316.2L125.6 325.8Z" fill="#8d9298"/>
<path d="M126.4 329.6L142.6 318L143.6 320.6L128 332Z" fill="#6b5a4a"/>
<path d="M147.7 289.4L177 286.8L181.6 310L160.1 315Z" fill="#232326"/><path d="M151.6 292.6L175 290.4L178.4 306.4L161.6 311Z" fill="#85878f"/><path d="M153 294.6L174.6 292.4L175.6 297L154.6 299.6Z" fill="#c9cbd2"/><path d="M156 302.4L176.6 299.6L177.4 303L157.4 306Z" fill="#5d5f68"/>
<path d="M145.6 307.5L150 306L158.8 320.6L154.4 323.5Z" fill="#6a3fb8"/>
<path d="M96 322.8L119.4 345.4L117.9 371.7L91.7 355.6L87.3 348.3Z" fill="#6f7995"/><path d="M97.6 328.6L115.6 347L114.6 366L93 352.6Z" fill="#2c3860"/><path d="M99.6 334L104 337.6L100 351L95.5 348Z" fill="#c9cfe0"/><path d="M104.6 342.6L113 349L112 360L102.6 354Z" fill="#aeb4c9"/>
<path d="M122.3 355.6L127.4 357.1V367.3L122.3 365.8Z" fill="#3fc44a"/>
<path d="M132 364H150V380H131Z" fill="#d9d9d6"/><path d="M136 366h5v8h-5z" fill="#55585e"/>
<path d="M189.5 284H219.5V303L191 306.5Z" fill="#c6c8ce"/><rect x="194" y="288" width="22" height="13" fill="#e3e4e8"/><rect x="199" y="296.5" width="12" height="2.6" fill="#f6f6f8"/>
<path d="M180 284H189V311L181 314Z" fill="#19191c"/>
<path d="M222 284H250V300L222 304Z" fill="#2a2b30"/><rect x="226" y="287" width="9" height="13" rx="2" fill="#43454c"/><rect x="243" y="287" width="12" height="4" fill="#dcdde0"/><rect x="240" y="294" width="10" height="5" fill="#9a9ca3"/>
<path d="M155.9 326.5L190 316.3L222 304L250 300L256 330L222 372L221 380H131.1L135.4 348.3Z" fill="url(#p2Desk)"/>
<path d="M197 303L247 300L248 320L236 326L197 314Z" fill="#a3a89f"/>
<ellipse cx="208" cy="309" rx="13" ry="4.5" fill="#8d9093"/><ellipse cx="236" cy="313" rx="9" ry="3" fill="#7d8082"/>
<path d="M185 309l6 2M176 318l5 2M208 308l4 1.5M232 311l5 2" stroke="#1a1b1e" stroke-width="2.2" stroke-linecap="round"/>
<path d="M170 354.5L215 371L221 380H150L160 366Z" fill="#aaacb3"/>
<ellipse cx="160.2" cy="361.5" rx="12" ry="7" fill="#c8cad1"/><ellipse cx="158" cy="359.5" rx="6" ry="3" fill="#e6e7ec" opacity="0.8"/>
<path d="M154.4 342.5L164.6 343.5L163.6 355.6L156 354.5Z" fill="#15161a"/>
<path d="M146 336L166 343" stroke="#18191d" stroke-width="1.6"/>
<path d="M141.3 369.5L170.4 372.4V380H146Z" fill="#c7d629"/>
<path d="M131 366L141 364L146 380H131Z" fill="#1c1d21"/><path d="M136.5 365.5l4 -.6 2 8 -4 .6z" fill="#e3e4e6"/>
<path d="M192.5 320L222.5 326L209 347.7L177.5 338Z" fill="#e9e9ea"/><path d="M194 324L217 329M191 328L214 333.6M188 332L211 338" stroke="#b5b6ba" stroke-width="1.3"/>
<path d="M185 334L206 342.5" stroke="#141418" stroke-width="1.5" stroke-linecap="round"/>
<path d="M222.5 326L229 327L218 349L209 347.7Z" fill="#9da0a8"/>
<path d="M305 309.5L312 300L311 280Q313 274 322 274.5L336 277Q341 279 341 286L339.4 305L335 320L329 335L318.4 350L294.4 376H286L300 350Z" fill="#1a1b1e"/>
<path d="M318 352L336 318L339 322L322 356Z" fill="#3f4146"/>
<path d="M294.4 376L318.4 350L349 356V380H294Z" fill="#232427"/><path d="M318 351L349 357V362L316 356Z" fill="#4b4d52"/>
<path d="M307.8 276Q316 273.6 327.2 274.2Q336 276 339.8 282Q341.6 292 340.8 302.3L335.9 312L325.3 317.8L303 302.3L309.8 295.5Z" fill="#17181b"/><path d="M326 277Q335 279 338 285Q339.6 294 338 302L333 309Q330 296 327 290Z" fill="#2b2d31"/>
<path d="M329 335L349 330V356L318.4 350Z" fill="#c6bfc2"/><path d="M335 320L349 300V330L329 335Z" fill="#e1dcde"/>
<path d="M245 320L266 305L294.4 296L305 309.5L306.4 327.5L300.4 350L294.4 376L221 380L215 371L191 360.5L197 348.5L240.5 353L248 339.5Z" fill="url(#p2Jacket)"/>
<path d="M255 322L290 308L298 330L280 346L252 350Z" fill="#2a3153" opacity="0.45" filter="url(#bl1)"/>
<path d="M200 351L240 356L236 366L198 358Z" fill="#2a3152" opacity="0.6"/>
<path d="M222 330L248 322L252 338L240 353L214 350Z" fill="#15161b"/>
<path d="M268.6 306.2L290 298.2V300.4L270 308.4Z" fill="#eceef2"/>
<path d="M263.7 308.7L269.7 305.7L270.4 308L264.4 311Z" fill="#c8283a"/><path d="M274.6 311.6l5.4 -1.6 .5 2 -5.4 1.7z" fill="#d9703a"/>
<path d="M282.4 306.5L293 305L293.7 317L283.2 318.5Z" fill="#dfc140"/><rect x="285" y="310.5" width="6.4" height="3" fill="#6a5a22"/>
<path d="M249.6 325l2.8 -1 2.4 7 -2.6 1z" fill="#dfe3ee"/>
<path d="M262 290L273 302L270.5 307.5L262 305Z" fill="#b47f5e"/>
<path d="M269.1 262.6L280.7 266L292.3 279L294.3 290.7L288.4 296.5L272 302.6L264.2 296.5L262.6 289L260.8 283.9L264.2 275.2L266.4 268Z" fill="#cf9d78"/>
<path d="M268 270L276 268L281 282L274 296L265 296.5L262.8 288.8L260.8 283.9L264.2 275.2Z" fill="#dcab88" opacity="0.8"/>
<path d="M267.1 260.7Q274 256.6 283.6 258.2Q293 259.6 298.1 264.5Q302.6 270 303 277.1Q302.4 285 298.1 290.7L294.3 293L294.3 281L290.4 279.1L282.6 282.4L280.7 269.4L269.1 265.5Z" fill="#54412e"/>
<path d="M275 259.5Q284 258 292 262L296 268L286 265L278 263Z" fill="#6d573e" opacity="0.8"/>
<ellipse cx="288.6" cy="285.6" rx="2.8" ry="4.3" fill="#bf8762"/><path d="M287.4 283.4Q290 284 289.6 288" fill="none" stroke="#8e5d40" stroke-width="0.8"/>
<path d="M264.4 275.4L270.6 274.6" stroke="#3b2a1d" stroke-width="1.3"/><path d="M265.6 277.8l3.6 -.3" stroke="#2a1c14" stroke-width="1"/>
<path d="M264.2 296.5L272 302.6L288.4 296.5L292 292L280 296L270 297Z" fill="#a97452" opacity="0.75"/>
<path d="M253.6 287L261 284L263.6 290L258 295L254 293Z" fill="#101114"/>
<path d="M249.5 294.5L263 296L262 301.5L252 302.5Z" fill="#dcae92"/>
<path d="M240 296L252 294L262 302L262 318L246 322L240 308Z" fill="#15161b"/>
<path d="M168 338L188 342.5L195.5 348.5L185 354.5L170 348.5Z" fill="#e0b292"/>
<path d="M188 350L195.5 348.5L193 357.5L187.2 356Z" fill="#e8eaf0"/>
</g></g>
<g fill="none" stroke="#4580b1" stroke-width="1.4" stroke-dasharray="7.5 5.6">
<rect x="410.3" y="36.6" width="283.2" height="341.8" rx="23" ry="23"/>
<rect x="66.7" y="530.3" width="302.6" height="170.3" rx="17" ry="17"/>
<rect x="885.6" y="530.3" width="301.2" height="170.3" rx="17" ry="17"/>
</g>
<g fill="none" stroke="#2d6ea5" stroke-width="1.5">
<path d="M459.7 110V336.5M459.7 134.5H519M459.7 275.3H520"/>
<path d="M693.5 62.5H989M693.5 159.6H989M693.5 256.1H989M693.5 354H989"/>
<path d="M550.6 378.5V488"/>
<path d="M418 548.5L369.3 583.5M727 531L885.5 590"/>
</g>
<g fill="none" stroke="#4580b1" stroke-width="1.4" stroke-dasharray="6 5">
<path d="M160 602.6C190 603 215 600 238 591.7"/>
<path d="M213.7 650.6C232 645 243 634 248.5 617"/>
<path d="M977.5 603C1007 603.4 1032 600.4 1055.5 592"/>
<path d="M1033 650.6C1051 645 1062 634 1067.5 617"/>
</g>
<rect x="794.5" y="50.7" width="87.5" height="23.6" rx="11.8" fill="#f8f9fa" stroke="#2d6ea5" stroke-width="1.3"/>
<text x="838.2" y="68.8" font-size="17.6" fill="#141414" stroke="#141414" stroke-width="0.3" text-anchor="middle">MCX-3</text>
<rect x="794.5" y="244.5" width="87.5" height="23.6" rx="11.8" fill="#f8f9fa" stroke="#2d6ea5" stroke-width="1.3"/>
<text x="838.2" y="262.6" font-size="17.6" fill="#141414" stroke="#141414" stroke-width="0.3" text-anchor="middle">PRI</text>
<rect x="794.5" y="342.1" width="87.5" height="23.6" rx="11.8" fill="#f8f9fa" stroke="#2d6ea5" stroke-width="1.3"/>
<text x="838.2" y="360.2" font-size="17.6" fill="#141414" stroke="#141414" stroke-width="0.3" text-anchor="middle">E</text>
<ellipse cx="459.6" cy="81.5" rx="29.9" ry="25.6" fill="url(#gCircle)"/>
<text x="442.0" y="79.2" font-size="17.6" font-weight="bold" fill="#fff">调度</text>
<text x="442.0" y="98.7" font-size="17.6" font-weight="bold" fill="#fff">中心</text>
<use href="#racks3" x="0" y="0"/>
<use href="#racks3" x="0" y="149.5"/>
<text x="490.5" y="188.6" font-size="18.4" fill="#141414" stroke="#141414" stroke-width="0.3">MCS6800</text>
<text x="572.3" y="188.6" font-size="18.4" fill="#141414" stroke="#141414" stroke-width="0.3">宽带集群</text>
<text x="530.4" y="211.5" font-size="18.4" fill="#141414" stroke="#141414" stroke-width="0.3">主用系统</text>
<text x="490.5" y="334.0" font-size="18.4" fill="#141414" stroke="#141414" stroke-width="0.3">MCS6800</text>
<text x="572.3" y="334.0" font-size="18.4" fill="#141414" stroke="#141414" stroke-width="0.3">宽带集群</text>
<text x="530.4" y="356.6" font-size="18.4" fill="#141414" stroke="#141414" stroke-width="0.3">备用系统</text>
<g><polygon points="1029.3,47.5 1052.0,35.6 1052.0,65.0 1029.3,77.2" fill="url(#gSide)"/><polygon points="1012.7,40.8 1038.7,29.4 1052.0,35.6 1029.3,47.5" fill="url(#gTop)"/><polygon points="1012.7,40.8 1029.3,47.5 1029.3,77.2 1012.7,70.9" fill="url(#gFront)"/><path d="M1029.3 47.5L1029.3 77.2" stroke="#3a8fd6" stroke-width="0.6"/><polygon points="1012.7,40.8 1029.3,47.5 1029.3,52.5 1012.7,45.9" fill="#13508f"/><polygon points="1012.7,45.9 1029.3,52.5 1029.3,53.9 1012.7,47.3" fill="#a9d6f3"/><polygon points="1018.3,64.1 1026.0,67.0 1026.0,71.8 1018.3,68.8" fill="#7db4e0"/><polygon points="1048.2,56.4 1070.9,44.4 1070.9,73.0 1048.2,85.5" fill="url(#gSide)"/><polygon points="1031.6,49.6 1057.4,38.2 1070.9,44.4 1048.2,56.4" fill="url(#gTop)"/><polygon points="1031.6,49.6 1048.2,56.4 1048.2,85.5 1031.6,78.2" fill="url(#gFront)"/><path d="M1048.2 56.4L1048.2 85.5" stroke="#3a8fd6" stroke-width="0.6"/><polygon points="1031.6,49.6 1048.2,56.4 1048.2,61.3 1031.6,54.5" fill="#13508f"/><polygon points="1031.6,54.5 1048.2,61.3 1048.2,62.7 1031.6,55.7" fill="#a9d6f3"/><polygon points="1037.2,72.1 1044.9,75.3 1044.9,80.0 1037.2,76.7" fill="#7db4e0"/></g>
<text x="1086.0" y="68.2" font-size="18.7" fill="#141414" stroke="#141414" stroke-width="0.3">多媒体调度系统</text>
<g><polygon points="1047.9,149.5 1066.3,140.3 1066.3,183.7 1047.9,194.2" fill="url(#gSide)"/><polygon points="1007.1,131.7 1027.5,121.8 1066.3,140.3 1047.9,149.5" fill="url(#gTop)"/><polygon points="1007.1,131.7 1047.9,149.5 1047.9,194.2 1007.1,175.1" fill="url(#gFront)"/><polygon points="1007.1,131.7 1047.9,149.5 1047.9,163.4 1007.1,145.2" fill="#1a63aa"/><polygon points="1007.1,145.2 1047.9,163.4 1047.9,165.6 1007.1,147.3" fill="#124f92"/><polygon points="1008.7,149.8 1046.7,166.8 1046.7,190.9 1008.7,173.3" fill="#e4f2fc"/><polygon points="1011.3,151.0 1013.1,151.8 1013.1,175.3 1011.3,174.5" fill="#2a7cc2"/><polygon points="1015.5,152.8 1017.3,153.7 1017.3,177.3 1015.5,176.4" fill="#2a7cc2"/><polygon points="1019.7,154.7 1021.5,155.5 1021.5,179.2 1019.7,178.4" fill="#2a7cc2"/><polygon points="1024.0,156.6 1025.8,157.4 1025.8,181.2 1024.0,180.4" fill="#2a7cc2"/><polygon points="1028.2,158.5 1030.0,159.3 1030.0,183.2 1028.2,182.3" fill="#2a7cc2"/><polygon points="1032.4,160.4 1034.2,161.2 1034.2,185.1 1032.4,184.3" fill="#2a7cc2"/><polygon points="1036.6,162.3 1038.4,163.1 1038.4,187.1 1036.6,186.3" fill="#2a7cc2"/><polygon points="1040.8,164.2 1042.6,165.0 1042.6,189.1 1040.8,188.2" fill="#2a7cc2"/><polygon points="1045.0,166.1 1046.8,166.9 1046.8,191.0 1045.0,190.2" fill="#2a7cc2"/><polygon points="1047.9,165.5 1066.3,155.5 1066.3,183.7 1047.9,194.2" fill="#2473bb"/><polygon points="1047.9,180.0 1066.3,170.0 1066.3,183.7 1047.9,194.2" fill="#1a65ae"/><path d="M1066.3 153.2l-2.2 1.2v1.6l2.2 -1.2z" fill="#f7f7f6"/></g>
<text x="1088.0" y="164.8" font-size="18.4" fill="#141414" stroke="#141414" stroke-width="0.3" textLength="51.0" lengthAdjust="spacingAndGlyphs">5G-IN</text>
<g><polygon points="1055.3,253.9 1067.7,248.6 1067.7,279.2 1055.3,285.6" fill="url(#gSide)"/><polygon points="1015.9,235.6 1027.7,229.7 1067.7,248.6 1055.3,253.9" fill="url(#gTop)"/><polygon points="1015.9,235.6 1055.3,253.9 1055.3,285.6 1015.9,266.8" fill="url(#gFront)"/><path d="M1055.3 253.9V285.6" stroke="#3a8fd6" stroke-width="0.7"/><g fill="none" stroke="#fff" stroke-width="2.8" stroke-linecap="round" stroke-linejoin="round"><path d="M1021.8 244.6C1028 246 1031 246.5 1032.6 252.4"/><path d="M1021.8 264.2C1025.5 267 1029 267.2 1032 265.4"/><path d="M1038.6 259.9C1040.8 255.2 1045.5 255 1050.6 258.2"/><path d="M1040.8 260.2C1043.6 262.2 1045 265 1045.4 268.2"/><path d="M1039.6 270.4C1042 274.4 1046 275.4 1050 276.4"/></g><path d="M1029.4 254.3l4.4 3.6 -4.2 4.8 -4.6 -3.7z" fill="#fff"/><circle cx="1050" cy="276.4" r="0.8" fill="#2a7cc2"/></g>
<text x="1088.6" y="262.3" font-size="18.4" fill="#141414" stroke="#141414" stroke-width="0.3">FAS</text>
<text x="1124.4" y="262.3" font-size="18.4" fill="#141414" stroke="#141414" stroke-width="0.3">调度系统</text>
<g><polygon points="1024.3,331.2 1041.1,321.8 1041.1,364.0 1024.3,374.2" fill="url(#gSide)"/><polygon points="1013.1,326.2 1031.2,317.5 1041.1,321.8 1024.3,331.2" fill="url(#gTop)"/><polygon points="1013.1,326.2 1024.3,331.2 1024.3,374.2 1013.1,368.6" fill="url(#gFront)"/><path d="M1024.3 331.2L1024.3 374.2" stroke="#3a8fd6" stroke-width="0.6"/><polygon points="1013.1,326.2 1024.3,331.2 1024.3,334.9 1013.1,329.8" fill="#13508f"/><polygon points="1013.1,329.8 1024.3,334.9 1024.3,335.8 1013.1,330.8" fill="#a9d6f3"/><polygon points="1016.9,342.8 1022.1,345.2 1022.1,348.6 1016.9,346.2" fill="#7db4e0"/><polygon points="1013.1,347.4 1024.3,352.7 1024.3,356.4 1013.1,351.0" fill="#13508f"/><polygon points="1013.1,351.0 1024.3,356.4 1024.3,357.3 1013.1,352.0" fill="#a9d6f3"/><polygon points="1016.9,364.1 1022.1,366.6 1022.1,370.1 1016.9,367.5" fill="#7db4e0"/><polygon points="1038.7,337.2 1054.9,328.1 1054.9,370.5 1038.7,379.8" fill="url(#gSide)"/><polygon points="1026.8,331.8 1044.3,323.1 1054.9,328.1 1038.7,337.2" fill="url(#gTop)"/><polygon points="1026.8,331.8 1038.7,337.2 1038.7,379.8 1026.8,374.2" fill="url(#gFront)"/><path d="M1038.7 337.2L1038.7 379.8" stroke="#3a8fd6" stroke-width="0.6"/><polygon points="1026.8,331.8 1038.7,337.2 1038.7,340.8 1026.8,335.4" fill="#13508f"/><polygon points="1026.8,335.4 1038.7,340.8 1038.7,341.8 1026.8,336.4" fill="#a9d6f3"/><polygon points="1030.8,348.5 1036.3,351.0 1036.3,354.4 1030.8,351.9" fill="#7db4e0"/><polygon points="1026.8,353.0 1038.7,358.5 1038.7,362.1 1026.8,356.6" fill="#13508f"/><polygon points="1026.8,356.6 1038.7,362.1 1038.7,363.1 1026.8,357.6" fill="#a9d6f3"/><polygon points="1030.8,369.7 1036.3,372.3 1036.3,375.7 1030.8,373.1" fill="#7db4e0"/><polygon points="1052.4,343.0 1068.6,334.3 1068.6,376.7 1052.4,386.0" fill="url(#gSide)"/><polygon points="1040.5,338.0 1058.0,329.3 1068.6,334.3 1052.4,343.0" fill="url(#gTop)"/><polygon points="1040.5,338.0 1052.4,343.0 1052.4,386.0 1040.5,380.4" fill="url(#gFront)"/><path d="M1052.4 343.0L1052.4 386.0" stroke="#3a8fd6" stroke-width="0.6"/><polygon points="1040.5,338.0 1052.4,343.0 1052.4,346.7 1040.5,341.6" fill="#13508f"/><polygon points="1040.5,341.6 1052.4,346.7 1052.4,347.6 1040.5,342.6" fill="#a9d6f3"/><polygon points="1044.5,354.6 1050.0,357.0 1050.0,360.4 1044.5,358.0" fill="#7db4e0"/><polygon points="1040.5,359.2 1052.4,364.5 1052.4,368.2 1040.5,362.8" fill="#13508f"/><polygon points="1040.5,362.8 1052.4,368.2 1052.4,369.1 1040.5,363.8" fill="#a9d6f3"/><polygon points="1044.5,375.9 1050.0,378.4 1050.0,381.9 1044.5,379.3" fill="#7db4e0"/><path d="M1068.6 353.2l-2.4 1.3v1.8l2.4 -1.3z" fill="#f7f7f6"/></g>
<text x="1088.0" y="358.0" font-size="18.4" fill="#141414" stroke="#141414" stroke-width="0.3">GSM-R</text>
<text x="563.0" y="411.7" font-size="18.4" fill="#141414" stroke="#141414" stroke-width="0.3" textLength="114.8" lengthAdjust="spacingAndGlyphs">N5 N6/Rx Sgi</text>
<g><polygon points="563.2,437.1 574.6,431.6 574.6,465.4 563.2,472.6" fill="url(#gSide)"/><polygon points="525.5,421.1 537.7,415.5 574.6,431.6 563.2,437.1" fill="url(#gTop)"/><polygon points="525.5,421.1 563.2,437.1 563.2,472.6 525.5,454.9" fill="url(#gFront)"/><path d="M563.2 437.1V472.6" stroke="#3a8fd6" stroke-width="0.7"/><g fill="none" stroke="#fff" stroke-width="1.9" stroke-linecap="round" stroke-linejoin="round"><ellipse cx="542.7" cy="446.8" rx="5.3" ry="5.9"/><path d="M538.9 443L532 436.2M532 436.2l0.6 3.6M532 436.2l3.4 0.3"/><path d="M546.6 443.2L551.4 439.6M549.6 441.2l2 -3.4 2.6 4.6"/><path d="M538.6 450.6L534.2 453.4M534.2 453.4l0.8 -3M534.2 453.4l3 0.6"/><path d="M546.4 451L554.2 458.8M554.2 458.8l-3.6 -0.2M554.2 458.8l-0.6 -3.6"/></g></g>
<text x="585.0" y="454.3" font-size="18.4" fill="#141414" stroke="#141414" stroke-width="0.3" textLength="97.1" lengthAdjust="spacingAndGlyphs">5G-R/LTE-R</text>
<text x="682.1" y="454.3" font-size="18.4" fill="#141414" stroke="#141414" stroke-width="0.3">核心网</text>
<g><circle cx="426.2" cy="529.2" r="18.9" fill="#e3e3e3"/><circle cx="445.5" cy="515.5" r="23.9" fill="#e3e3e3"/><circle cx="493.7" cy="511.3" r="30.4" fill="#e3e3e3"/><circle cx="526.8" cy="536.6" r="34.9" fill="#e3e3e3"/><circle cx="570.8" cy="507.2" r="28.4" fill="#e3e3e3"/><circle cx="601.2" cy="527.9" r="31.9" fill="#e3e3e3"/><circle cx="642.5" cy="527.9" r="29.9" fill="#e3e3e3"/><circle cx="683.8" cy="522.4" r="30.9" fill="#e3e3e3"/><circle cx="711.4" cy="527.9" r="17.9" fill="#e3e3e3"/><circle cx="468.9" cy="543.5" r="21.9" fill="#e3e3e3"/><circle cx="476" cy="528" r="26.9" fill="#e3e3e3"/><circle cx="560" cy="535" r="30.9" fill="#e3e3e3"/><circle cx="426.2" cy="529.2" r="18" fill="#cfcfcf"/><circle cx="445.5" cy="515.5" r="23" fill="#cfcfcf"/><circle cx="493.7" cy="511.3" r="29.5" fill="#cfcfcf"/><circle cx="526.8" cy="536.6" r="34" fill="#cfcfcf"/><circle cx="570.8" cy="507.2" r="27.5" fill="#cfcfcf"/><circle cx="601.2" cy="527.9" r="31" fill="#cfcfcf"/><circle cx="642.5" cy="527.9" r="29" fill="#cfcfcf"/><circle cx="683.8" cy="522.4" r="30" fill="#cfcfcf"/><circle cx="711.4" cy="527.9" r="17" fill="#cfcfcf"/><circle cx="468.9" cy="543.5" r="21" fill="#cfcfcf"/><circle cx="476" cy="528" r="26" fill="#cfcfcf"/><circle cx="560" cy="535" r="30" fill="#cfcfcf"/><circle cx="426.2" cy="529.2" r="17.5" fill="none" stroke="#d3d3d3" stroke-width="0.8"/><circle cx="445.5" cy="515.5" r="22.5" fill="none" stroke="#d3d3d3" stroke-width="0.8"/><circle cx="493.7" cy="511.3" r="29.0" fill="none" stroke="#d3d3d3" stroke-width="0.8"/><circle cx="526.8" cy="536.6" r="33.5" fill="none" stroke="#d3d3d3" stroke-width="0.8"/><circle cx="570.8" cy="507.2" r="27.0" fill="none" stroke="#d3d3d3" stroke-width="0.8"/><circle cx="601.2" cy="527.9" r="30.5" fill="none" stroke="#d3d3d3" stroke-width="0.8"/><circle cx="642.5" cy="527.9" r="28.5" fill="none" stroke="#d3d3d3" stroke-width="0.8"/><circle cx="683.8" cy="522.4" r="29.5" fill="none" stroke="#d3d3d3" stroke-width="0.8"/><circle cx="711.4" cy="527.9" r="16.5" fill="none" stroke="#d3d3d3" stroke-width="0.8"/></g>
<text x="499.6" y="533.4" font-size="25.8" font-weight="bold" fill="#dcdde0" stroke="#dcdde0" stroke-width="1.6">铁路专网</text>
<text x="499.6" y="533.4" font-size="25.8" font-weight="bold" fill="#1b5f99">铁路专网</text>
<g><rect x="9" y="686.1" width="1216" height="3.5" fill="#111"/><g transform="translate(33.0 0)"><clipPath id="cc1"><path d="M33.5 657.1H193.5Q195.5 657.1 195.5 659.1V681.4Q195.5 683.5 193.5 683.5H13.5C10 683.2 6.5 681.6 2.2 678.6C0.4 677.4 -0.4 676.2 0.6 674.8C4 671.2 9.5 668.6 15 666.2L30.5 658.3C31.6 657.6 32.4 657.1 33.5 657.1Z"/></clipPath><g clip-path="url(#cc1)"><rect x="-2.0" y="656" width="199.5" height="30" fill="#151515"/><rect x="-2.0" y="658.1" width="199.5" height="2.1" fill="#666"/><rect x="-2.0" y="660.8" width="199.5" height="2.8" fill="#f1f1f1"/><rect x="-2.0" y="673.9" width="199.5" height="2.0" fill="#f3f3f3"/><rect x="-2.0" y="676.5" width="199.5" height="6.4" fill="#51a582"/><rect x="-2.0" y="676.5" width="199.5" height="1.2" fill="#2f7d5c"/><path d="M-2 655H66.9V673.9H-2Z" fill="#f6f6f6"/><path d="M30 655H70V660.6H41Z" fill="#151515"/><rect x="44" y="658.2" width="26" height="1.9" fill="#666"/><path d="M14.3 666.7L33.4 657.6L44 657.6V660.8L34.2 664.4L19 667.6Z" fill="#151515"/><path d="M29.4 674.2L48.6 665.3L66.9 664.6V673.9Z" fill="#51a582" stroke="#1c1c1c" stroke-width="0.7"/><rect x="50.8" y="665.8" width="3.5" height="6.4" rx="0.5" fill="#f4f4ee" stroke="#222" stroke-width="0.5"/><path d="M3 676.3H70" stroke="#1f5f48" stroke-width="0.6"/></g><path d="M33.5 657.1H193.5Q195.5 657.1 195.5 659.1V681.4Q195.5 683.5 193.5 683.5H13.5C10 683.2 6.5 681.6 2.2 678.6C0.4 677.4 -0.4 676.2 0.6 674.8C4 671.2 9.5 668.6 15 666.2L30.5 658.3C31.6 657.6 32.4 657.1 33.5 657.1Z" fill="none" stroke="#151515" stroke-width="1.1"/><path d="M8 682.6L16 684.6H30" stroke="#151515" stroke-width="1.2" fill="none"/><path d="M36.0 679.8H59.5Q61.3 679.8 61.9 681.2L62.5 683.2L60.0 686.6H35.5L33.0 683.2L33.6 681.2Q34.2 679.8 36.0 679.8Z" fill="#111"/><rect x="42.5" y="684.4" width="10.5" height="2.0" fill="#cfcfcf"/><path d="M155.9 679.8H180.0Q181.8 679.8 182.4 681.2L183.0 683.2L180.5 686.6H155.4L152.9 683.2L153.5 681.2Q154.1 679.8 155.9 679.8Z" fill="#111"/><rect x="162.4" y="684.4" width="11.1" height="2.0" fill="#cfcfcf"/><rect x="102.7" y="666.4" width="8.6" height="4.6" rx="0.8" fill="#f2f2f2"/><rect x="103.7" y="668.2" width="6.6" height="0.9" fill="#cfcfcf"/><rect x="118.8" y="666.4" width="8.6" height="4.6" rx="0.8" fill="#f2f2f2"/><rect x="119.8" y="668.2" width="6.6" height="0.9" fill="#cfcfcf"/><rect x="134.9" y="666.4" width="8.6" height="4.6" rx="0.8" fill="#f2f2f2"/><rect x="135.9" y="668.2" width="6.6" height="0.9" fill="#cfcfcf"/><rect x="151.0" y="666.4" width="8.6" height="4.6" rx="0.8" fill="#f2f2f2"/><rect x="152.0" y="668.2" width="6.6" height="0.9" fill="#cfcfcf"/><rect x="167.1" y="666.4" width="8.6" height="4.6" rx="0.8" fill="#f2f2f2"/><rect x="168.1" y="668.2" width="6.6" height="0.9" fill="#cfcfcf"/><rect x="66.6" y="662.2" width="8.6" height="17" rx="1.8" fill="#141414"/><rect x="68.5" y="664.6" width="4.8" height="7.6" rx="0.6" fill="#51a582"/><rect x="69.5" y="665.4" width="2.8" height="5.8" rx="0.5" fill="#d9dc9c"/><rect x="68.5" y="674" width="4.8" height="3.9" rx="0.5" fill="#bfe3d2"/><rect x="185.4" y="662.2" width="8.6" height="17" rx="1.8" fill="#141414"/><rect x="187.3" y="664.6" width="4.8" height="7.6" rx="0.6" fill="#51a582"/><rect x="188.3" y="665.4" width="2.8" height="5.8" rx="0.5" fill="#4fb88d"/><rect x="187.3" y="674" width="4.8" height="3.9" rx="0.5" fill="#bfe3d2"/></g><rect x="227.5" y="662.5" width="6.5" height="19.5" fill="#1a1a1a"/><clipPath id="cc2"><rect x="233.0" y="657" width="174.8" height="26.6" rx="2.2"/></clipPath><g clip-path="url(#cc2)"><rect x="233.0" y="656" width="174.8" height="30" fill="#151515"/><rect x="233.0" y="658.1" width="174.8" height="2.1" fill="#666"/><rect x="233.0" y="660.8" width="174.8" height="2.8" fill="#f1f1f1"/><rect x="233.0" y="673.9" width="174.8" height="2.0" fill="#f3f3f3"/><rect x="233.0" y="676.5" width="174.8" height="6.4" fill="#51a582"/><rect x="233.0" y="676.5" width="174.8" height="1.2" fill="#2f7d5c"/></g><rect x="233.0" y="657" width="174.8" height="26.6" rx="2.2" fill="none" stroke="#151515" stroke-width="1.1"/><path d="M249.3 679.8H272.8Q274.6 679.8 275.2 681.2L275.8 683.2L273.3 686.6H248.8L246.3 683.2L246.9 681.2Q247.5 679.8 249.3 679.8Z" fill="#111"/><rect x="255.8" y="684.4" width="10.5" height="2.0" fill="#cfcfcf"/><path d="M369.1 679.8H393.0Q394.8 679.8 395.4 681.2L396.0 683.2L393.5 686.6H368.6L366.1 683.2L366.7 681.2Q367.3 679.8 369.1 679.8Z" fill="#111"/><rect x="375.6" y="684.4" width="10.9" height="2.0" fill="#cfcfcf"/><rect x="254.9" y="666.4" width="8.6" height="4.6" rx="0.8" fill="#f2f2f2"/><rect x="255.9" y="668.2" width="6.6" height="0.9" fill="#cfcfcf"/><rect x="270.8" y="666.4" width="8.6" height="4.6" rx="0.8" fill="#f2f2f2"/><rect x="271.8" y="668.2" width="6.6" height="0.9" fill="#cfcfcf"/><rect x="286.7" y="666.4" width="8.6" height="4.6" rx="0.8" fill="#f2f2f2"/><rect x="287.7" y="668.2" width="6.6" height="0.9" fill="#cfcfcf"/><rect x="302.7" y="666.4" width="8.6" height="4.6" rx="0.8" fill="#f2f2f2"/><rect x="303.7" y="668.2" width="6.6" height="0.9" fill="#cfcfcf"/><rect x="318.6" y="666.4" width="8.6" height="4.6" rx="0.8" fill="#f2f2f2"/><rect x="319.6" y="668.2" width="6.6" height="0.9" fill="#cfcfcf"/><rect x="334.5" y="666.4" width="8.6" height="4.6" rx="0.8" fill="#f2f2f2"/><rect x="335.5" y="668.2" width="6.6" height="0.9" fill="#cfcfcf"/><rect x="350.4" y="666.4" width="8.6" height="4.6" rx="0.8" fill="#f2f2f2"/><rect x="351.4" y="668.2" width="6.6" height="0.9" fill="#cfcfcf"/><rect x="366.3" y="666.4" width="8.6" height="4.6" rx="0.8" fill="#f2f2f2"/><rect x="367.3" y="668.2" width="6.6" height="0.9" fill="#cfcfcf"/><rect x="382.3" y="666.4" width="8.6" height="4.6" rx="0.8" fill="#f2f2f2"/><rect x="383.3" y="668.2" width="6.6" height="0.9" fill="#cfcfcf"/><rect x="235.6" y="662.2" width="8.6" height="17" rx="1.8" fill="#141414"/><rect x="237.5" y="664.6" width="4.8" height="7.6" rx="0.6" fill="#51a582"/><rect x="238.5" y="665.4" width="2.8" height="5.8" rx="0.5" fill="#4fb88d"/><rect x="237.5" y="674" width="4.8" height="3.9" rx="0.5" fill="#bfe3d2"/><rect x="397.4" y="662.2" width="8.6" height="17" rx="1.8" fill="#141414"/><rect x="399.3" y="664.6" width="4.8" height="7.6" rx="0.6" fill="#51a582"/><rect x="400.3" y="665.4" width="2.8" height="5.8" rx="0.5" fill="#4fb88d"/><rect x="399.3" y="674" width="4.8" height="3.9" rx="0.5" fill="#bfe3d2"/><rect x="406.8" y="662.5" width="6" height="19.5" fill="#1a1a1a"/><g transform="translate(604.7 0) scale(-1 1)"><clipPath id="cc3"><path d="M33.5 657.1H190.7Q192.7 657.1 192.7 659.1V681.4Q192.7 683.5 190.7 683.5H13.5C10 683.2 6.5 681.6 2.2 678.6C0.4 677.4 -0.4 676.2 0.6 674.8C4 671.2 9.5 668.6 15 666.2L30.5 658.3C31.6 657.6 32.4 657.1 33.5 657.1Z"/></clipPath><g clip-path="url(#cc3)"><rect x="-2.0" y="656" width="196.7" height="30" fill="#151515"/><rect x="-2.0" y="658.1" width="196.7" height="2.1" fill="#666"/><rect x="-2.0" y="660.8" width="196.7" height="2.8" fill="#f1f1f1"/><rect x="-2.0" y="673.9" width="196.7" height="2.0" fill="#f3f3f3"/><rect x="-2.0" y="676.5" width="196.7" height="6.4" fill="#51a582"/><rect x="-2.0" y="676.5" width="196.7" height="1.2" fill="#2f7d5c"/><path d="M-2 655H66.9V673.9H-2Z" fill="#f6f6f6"/><path d="M30 655H70V660.6H41Z" fill="#151515"/><rect x="44" y="658.2" width="26" height="1.9" fill="#666"/><path d="M14.3 666.7L33.4 657.6L44 657.6V660.8L34.2 664.4L19 667.6Z" fill="#151515"/><path d="M29.4 674.2L48.6 665.3L66.9 664.6V673.9Z" fill="#51a582" stroke="#1c1c1c" stroke-width="0.7"/><rect x="50.8" y="665.8" width="3.5" height="6.4" rx="0.5" fill="#f4f4ee" stroke="#222" stroke-width="0.5"/><path d="M3 676.3H70" stroke="#1f5f48" stroke-width="0.6"/></g><path d="M33.5 657.1H190.7Q192.7 657.1 192.7 659.1V681.4Q192.7 683.5 190.7 683.5H13.5C10 683.2 6.5 681.6 2.2 678.6C0.4 677.4 -0.4 676.2 0.6 674.8C4 671.2 9.5 668.6 15 666.2L30.5 658.3C31.6 657.6 32.4 657.1 33.5 657.1Z" fill="none" stroke="#151515" stroke-width="1.1"/><path d="M8 682.6L16 684.6H30" stroke="#151515" stroke-width="1.2" fill="none"/><path d="M36.0 679.8H59.5Q61.3 679.8 61.9 681.2L62.5 683.2L60.0 686.6H35.5L33.0 683.2L33.6 681.2Q34.2 679.8 36.0 679.8Z" fill="#111"/><rect x="42.5" y="684.4" width="10.5" height="2.0" fill="#cfcfcf"/><path d="M154.7 679.8H178.5Q180.3 679.8 180.9 681.2L181.5 683.2L179.0 686.6H154.2L151.7 683.2L152.3 681.2Q152.9 679.8 154.7 679.8Z" fill="#111"/><rect x="161.2" y="684.4" width="10.8" height="2.0" fill="#cfcfcf"/><rect x="101.7" y="666.4" width="8.6" height="4.6" rx="0.8" fill="#f2f2f2"/><rect x="102.7" y="668.2" width="6.6" height="0.9" fill="#cfcfcf"/><rect x="117.2" y="666.4" width="8.6" height="4.6" rx="0.8" fill="#f2f2f2"/><rect x="118.2" y="668.2" width="6.6" height="0.9" fill="#cfcfcf"/><rect x="132.6" y="666.4" width="8.6" height="4.6" rx="0.8" fill="#f2f2f2"/><rect x="133.6" y="668.2" width="6.6" height="0.9" fill="#cfcfcf"/><rect x="148.1" y="666.4" width="8.6" height="4.6" rx="0.8" fill="#f2f2f2"/><rect x="149.1" y="668.2" width="6.6" height="0.9" fill="#cfcfcf"/><rect x="163.5" y="666.4" width="8.6" height="4.6" rx="0.8" fill="#f2f2f2"/><rect x="164.5" y="668.2" width="6.6" height="0.9" fill="#cfcfcf"/><rect x="66.6" y="662.2" width="8.6" height="17" rx="1.8" fill="#141414"/><rect x="68.5" y="664.6" width="4.8" height="7.6" rx="0.6" fill="#51a582"/><rect x="69.5" y="665.4" width="2.8" height="5.8" rx="0.5" fill="#d9dc9c"/><rect x="68.5" y="674" width="4.8" height="3.9" rx="0.5" fill="#bfe3d2"/><rect x="182.7" y="662.2" width="8.6" height="17" rx="1.8" fill="#141414"/><rect x="184.6" y="664.6" width="4.8" height="7.6" rx="0.6" fill="#51a582"/><rect x="185.6" y="665.4" width="2.8" height="5.8" rx="0.5" fill="#4fb88d"/><rect x="184.6" y="674" width="4.8" height="3.9" rx="0.5" fill="#bfe3d2"/></g><g transform="translate(641.5 0)"><clipPath id="cc4"><path d="M33.5 657.1H189.9Q191.9 657.1 191.9 659.1V681.4Q191.9 683.5 189.9 683.5H13.5C10 683.2 6.5 681.6 2.2 678.6C0.4 677.4 -0.4 676.2 0.6 674.8C4 671.2 9.5 668.6 15 666.2L30.5 658.3C31.6 657.6 32.4 657.1 33.5 657.1Z"/></clipPath><g clip-path="url(#cc4)"><rect x="-2.0" y="656" width="195.9" height="30" fill="#151515"/><rect x="-2.0" y="658.1" width="195.9" height="2.1" fill="#666"/><rect x="-2.0" y="660.8" width="195.9" height="2.8" fill="#f1f1f1"/><rect x="-2.0" y="673.9" width="195.9" height="2.0" fill="#f3f3f3"/><rect x="-2.0" y="676.5" width="195.9" height="6.4" fill="#51a582"/><rect x="-2.0" y="676.5" width="195.9" height="1.2" fill="#2f7d5c"/><path d="M-2 655H66.9V673.9H-2Z" fill="#f6f6f6"/><path d="M30 655H70V660.6H41Z" fill="#151515"/><rect x="44" y="658.2" width="26" height="1.9" fill="#666"/><path d="M14.3 666.7L33.4 657.6L44 657.6V660.8L34.2 664.4L19 667.6Z" fill="#151515"/><path d="M29.4 674.2L48.6 665.3L66.9 664.6V673.9Z" fill="#51a582" stroke="#1c1c1c" stroke-width="0.7"/><rect x="50.8" y="665.8" width="3.5" height="6.4" rx="0.5" fill="#f4f4ee" stroke="#222" stroke-width="0.5"/><path d="M3 676.3H70" stroke="#1f5f48" stroke-width="0.6"/></g><path d="M33.5 657.1H189.9Q191.9 657.1 191.9 659.1V681.4Q191.9 683.5 189.9 683.5H13.5C10 683.2 6.5 681.6 2.2 678.6C0.4 677.4 -0.4 676.2 0.6 674.8C4 671.2 9.5 668.6 15 666.2L30.5 658.3C31.6 657.6 32.4 657.1 33.5 657.1Z" fill="none" stroke="#151515" stroke-width="1.1"/><path d="M8 682.6L16 684.6H30" stroke="#151515" stroke-width="1.2" fill="none"/><path d="M36.0 679.8H59.5Q61.3 679.8 61.9 681.2L62.5 683.2L60.0 686.6H35.5L33.0 683.2L33.6 681.2Q34.2 679.8 36.0 679.8Z" fill="#111"/><rect x="42.5" y="684.4" width="10.5" height="2.0" fill="#cfcfcf"/><path d="M153.5 679.8H177.2Q179.0 679.8 179.6 681.2L180.2 683.2L177.7 686.6H153.0L150.5 683.2L151.1 681.2Q151.7 679.8 153.5 679.8Z" fill="#111"/><rect x="160.0" y="684.4" width="10.7" height="2.0" fill="#cfcfcf"/><rect x="102.5" y="666.4" width="8.6" height="4.6" rx="0.8" fill="#f2f2f2"/><rect x="103.5" y="668.2" width="6.6" height="0.9" fill="#cfcfcf"/><rect x="117.9" y="666.4" width="8.6" height="4.6" rx="0.8" fill="#f2f2f2"/><rect x="118.9" y="668.2" width="6.6" height="0.9" fill="#cfcfcf"/><rect x="133.4" y="666.4" width="8.6" height="4.6" rx="0.8" fill="#f2f2f2"/><rect x="134.4" y="668.2" width="6.6" height="0.9" fill="#cfcfcf"/><rect x="148.8" y="666.4" width="8.6" height="4.6" rx="0.8" fill="#f2f2f2"/><rect x="149.8" y="668.2" width="6.6" height="0.9" fill="#cfcfcf"/><rect x="164.2" y="666.4" width="8.6" height="4.6" rx="0.8" fill="#f2f2f2"/><rect x="165.2" y="668.2" width="6.6" height="0.9" fill="#cfcfcf"/><rect x="66.6" y="662.2" width="8.6" height="17" rx="1.8" fill="#141414"/><rect x="68.5" y="664.6" width="4.8" height="7.6" rx="0.6" fill="#51a582"/><rect x="69.5" y="665.4" width="2.8" height="5.8" rx="0.5" fill="#d9dc9c"/><rect x="68.5" y="674" width="4.8" height="3.9" rx="0.5" fill="#bfe3d2"/><rect x="181.4" y="662.2" width="8.6" height="17" rx="1.8" fill="#141414"/><rect x="183.3" y="664.6" width="4.8" height="7.6" rx="0.6" fill="#51a582"/><rect x="184.3" y="665.4" width="2.8" height="5.8" rx="0.5" fill="#4fb88d"/><rect x="183.3" y="674" width="4.8" height="3.9" rx="0.5" fill="#bfe3d2"/></g><rect x="832.4" y="662.5" width="6" height="19.5" fill="#1a1a1a"/><clipPath id="cc5"><rect x="837.3" y="657" width="177.9" height="26.6" rx="2.2"/></clipPath><g clip-path="url(#cc5)"><rect x="837.3" y="656" width="177.9" height="30" fill="#151515"/><rect x="837.3" y="658.1" width="177.9" height="2.1" fill="#666"/><rect x="837.3" y="660.8" width="177.9" height="2.8" fill="#f1f1f1"/><rect x="837.3" y="673.9" width="177.9" height="2.0" fill="#f3f3f3"/><rect x="837.3" y="676.5" width="177.9" height="6.4" fill="#51a582"/><rect x="837.3" y="676.5" width="177.9" height="1.2" fill="#2f7d5c"/></g><rect x="837.3" y="657" width="177.9" height="26.6" rx="2.2" fill="none" stroke="#151515" stroke-width="1.1"/><path d="M855.9 679.8H878.4Q880.2 679.8 880.8 681.2L881.4 683.2L878.9 686.6H855.4L852.9 683.2L853.5 681.2Q854.1 679.8 855.9 679.8Z" fill="#111"/><rect x="862.4" y="684.4" width="9.5" height="2.0" fill="#cfcfcf"/><path d="M974.7 679.8H998.5Q1000.3 679.8 1000.9 681.2L1001.5 683.2L999.0 686.6H974.2L971.7 683.2L972.3 681.2Q972.9 679.8 974.7 679.8Z" fill="#111"/><rect x="981.2" y="684.4" width="10.8" height="2.0" fill="#cfcfcf"/><rect x="860.6" y="666.4" width="8.6" height="4.6" rx="0.8" fill="#f2f2f2"/><rect x="861.6" y="668.2" width="6.6" height="0.9" fill="#cfcfcf"/><rect x="876.7" y="666.4" width="8.6" height="4.6" rx="0.8" fill="#f2f2f2"/><rect x="877.7" y="668.2" width="6.6" height="0.9" fill="#cfcfcf"/><rect x="892.8" y="666.4" width="8.6" height="4.6" rx="0.8" fill="#f2f2f2"/><rect x="893.8" y="668.2" width="6.6" height="0.9" fill="#cfcfcf"/><rect x="908.9" y="666.4" width="8.6" height="4.6" rx="0.8" fill="#f2f2f2"/><rect x="909.9" y="668.2" width="6.6" height="0.9" fill="#cfcfcf"/><rect x="925.0" y="666.4" width="8.6" height="4.6" rx="0.8" fill="#f2f2f2"/><rect x="926.0" y="668.2" width="6.6" height="0.9" fill="#cfcfcf"/><rect x="941.1" y="666.4" width="8.6" height="4.6" rx="0.8" fill="#f2f2f2"/><rect x="942.1" y="668.2" width="6.6" height="0.9" fill="#cfcfcf"/><rect x="957.2" y="666.4" width="8.6" height="4.6" rx="0.8" fill="#f2f2f2"/><rect x="958.2" y="668.2" width="6.6" height="0.9" fill="#cfcfcf"/><rect x="973.3" y="666.4" width="8.6" height="4.6" rx="0.8" fill="#f2f2f2"/><rect x="974.3" y="668.2" width="6.6" height="0.9" fill="#cfcfcf"/><rect x="989.4" y="666.4" width="8.6" height="4.6" rx="0.8" fill="#f2f2f2"/><rect x="990.4" y="668.2" width="6.6" height="0.9" fill="#cfcfcf"/><rect x="841.0" y="662.2" width="8.6" height="17" rx="1.8" fill="#141414"/><rect x="842.9" y="664.6" width="4.8" height="7.6" rx="0.6" fill="#51a582"/><rect x="843.9" y="665.4" width="2.8" height="5.8" rx="0.5" fill="#4fb88d"/><rect x="842.9" y="674" width="4.8" height="3.9" rx="0.5" fill="#bfe3d2"/><rect x="1003.6" y="662.2" width="8.6" height="17" rx="1.8" fill="#141414"/><rect x="1005.5" y="664.6" width="4.8" height="7.6" rx="0.6" fill="#51a582"/><rect x="1006.5" y="665.4" width="2.8" height="5.8" rx="0.5" fill="#4fb88d"/><rect x="1005.5" y="674" width="4.8" height="3.9" rx="0.5" fill="#bfe3d2"/><rect x="1014.2" y="662.5" width="6" height="19.5" fill="#1a1a1a"/><g transform="translate(1210.7 0) scale(-1 1)"><clipPath id="cc6"><path d="M33.5 657.1H189.7Q191.7 657.1 191.7 659.1V681.4Q191.7 683.5 189.7 683.5H13.5C10 683.2 6.5 681.6 2.2 678.6C0.4 677.4 -0.4 676.2 0.6 674.8C4 671.2 9.5 668.6 15 666.2L30.5 658.3C31.6 657.6 32.4 657.1 33.5 657.1Z"/></clipPath><g clip-path="url(#cc6)"><rect x="-2.0" y="656" width="195.7" height="30" fill="#151515"/><rect x="-2.0" y="658.1" width="195.7" height="2.1" fill="#666"/><rect x="-2.0" y="660.8" width="195.7" height="2.8" fill="#f1f1f1"/><rect x="-2.0" y="673.9" width="195.7" height="2.0" fill="#f3f3f3"/><rect x="-2.0" y="676.5" width="195.7" height="6.4" fill="#51a582"/><rect x="-2.0" y="676.5" width="195.7" height="1.2" fill="#2f7d5c"/><path d="M-2 655H66.9V673.9H-2Z" fill="#f6f6f6"/><path d="M30 655H70V660.6H41Z" fill="#151515"/><rect x="44" y="658.2" width="26" height="1.9" fill="#666"/><path d="M14.3 666.7L33.4 657.6L44 657.6V660.8L34.2 664.4L19 667.6Z" fill="#151515"/><path d="M29.4 674.2L48.6 665.3L66.9 664.6V673.9Z" fill="#51a582" stroke="#1c1c1c" stroke-width="0.7"/><rect x="50.8" y="665.8" width="3.5" height="6.4" rx="0.5" fill="#f4f4ee" stroke="#222" stroke-width="0.5"/><path d="M3 676.3H70" stroke="#1f5f48" stroke-width="0.6"/></g><path d="M33.5 657.1H189.7Q191.7 657.1 191.7 659.1V681.4Q191.7 683.5 189.7 683.5H13.5C10 683.2 6.5 681.6 2.2 678.6C0.4 677.4 -0.4 676.2 0.6 674.8C4 671.2 9.5 668.6 15 666.2L30.5 658.3C31.6 657.6 32.4 657.1 33.5 657.1Z" fill="none" stroke="#151515" stroke-width="1.1"/><path d="M8 682.6L16 684.6H30" stroke="#151515" stroke-width="1.2" fill="none"/><path d="M36.0 679.8H59.5Q61.3 679.8 61.9 681.2L62.5 683.2L60.0 686.6H35.5L33.0 683.2L33.6 681.2Q34.2 679.8 36.0 679.8Z" fill="#111"/><rect x="42.5" y="684.4" width="10.5" height="2.0" fill="#cfcfcf"/><path d="M155.4 679.8H179.1Q180.9 679.8 181.5 681.2L182.1 683.2L179.6 686.6H154.9L152.4 683.2L153.0 681.2Q153.6 679.8 155.4 679.8Z" fill="#111"/><rect x="161.9" y="684.4" width="10.7" height="2.0" fill="#cfcfcf"/><rect x="101.6" y="666.4" width="8.6" height="4.6" rx="0.8" fill="#f2f2f2"/><rect x="102.6" y="668.2" width="6.6" height="0.9" fill="#cfcfcf"/><rect x="117.7" y="666.4" width="8.6" height="4.6" rx="0.8" fill="#f2f2f2"/><rect x="118.7" y="668.2" width="6.6" height="0.9" fill="#cfcfcf"/><rect x="133.8" y="666.4" width="8.6" height="4.6" rx="0.8" fill="#f2f2f2"/><rect x="134.8" y="668.2" width="6.6" height="0.9" fill="#cfcfcf"/><rect x="149.9" y="666.4" width="8.6" height="4.6" rx="0.8" fill="#f2f2f2"/><rect x="150.9" y="668.2" width="6.6" height="0.9" fill="#cfcfcf"/><rect x="166.0" y="666.4" width="8.6" height="4.6" rx="0.8" fill="#f2f2f2"/><rect x="167.0" y="668.2" width="6.6" height="0.9" fill="#cfcfcf"/><rect x="66.6" y="662.2" width="8.6" height="17" rx="1.8" fill="#141414"/><rect x="68.5" y="664.6" width="4.8" height="7.6" rx="0.6" fill="#51a582"/><rect x="69.5" y="665.4" width="2.8" height="5.8" rx="0.5" fill="#d9dc9c"/><rect x="68.5" y="674" width="4.8" height="3.9" rx="0.5" fill="#bfe3d2"/><rect x="182.9" y="662.2" width="8.6" height="17" rx="1.8" fill="#141414"/><rect x="184.8" y="664.6" width="4.8" height="7.6" rx="0.6" fill="#51a582"/><rect x="185.8" y="665.4" width="2.8" height="5.8" rx="0.5" fill="#4fb88d"/><rect x="184.8" y="674" width="4.8" height="3.9" rx="0.5" fill="#bfe3d2"/></g></g>
<g transform="translate(0 0)"><g><rect x="112.8" y="558.0" width="3.2" height="22" rx="1.4" fill="#1f6fb9"/><path d="M100.4 577.0l5 -4 4 1 3 3.6z" fill="#1f6fb9"/><polygon points="113.8,580.4 119.9,579.3 119.9,607.0 113.8,610.3" fill="#1758a0"/><polygon points="99.4,576.0 105.4,574.5 119.9,579.3 113.8,580.4" fill="#2a7cc4"/><polygon points="99.4,576.0 113.8,580.4 113.8,610.3 100.0,605.4" fill="#2272bb"/><polygon points="102.0,579.7 111.8,582.8 111.8,592.3 102.2,589.2" fill="#e8f1f8"/><polygon points="102.5,592.2 104.9,593.0 104.9,594.5 102.6,593.7" fill="#dfeefa"/><polygon points="106.1,593.4 108.4,594.2 108.5,595.7 106.1,594.9" fill="#dfeefa"/><polygon points="109.6,594.5 112.0,595.3 112.0,596.8 109.6,596.0" fill="#dfeefa"/><polygon points="102.6,595.2 105.0,596.0 105.0,597.4 102.6,596.6" fill="#dfeefa"/><polygon points="106.1,596.3 108.5,597.1 108.5,598.6 106.1,597.8" fill="#dfeefa"/><polygon points="109.6,597.5 112.0,598.3 112.0,599.8 109.6,599.0" fill="#dfeefa"/><polygon points="102.6,598.1 105.0,598.9 105.0,600.4 102.6,599.6" fill="#dfeefa"/><polygon points="106.1,599.3 108.5,600.1 108.5,601.6 106.1,600.8" fill="#dfeefa"/><polygon points="109.6,600.5 112.0,601.3 112.0,602.8 109.6,602.0" fill="#dfeefa"/><polygon points="102.7,601.1 105.0,601.9 105.1,603.4 102.7,602.5" fill="#dfeefa"/><polygon points="106.2,602.3 108.5,603.1 108.5,604.6 106.2,603.8" fill="#dfeefa"/><polygon points="109.6,603.5 112.0,604.3 112.0,605.8 109.6,605.0" fill="#dfeefa"/><rect x="139.9" y="561.5" width="3.2" height="22" rx="1.4" fill="#1f6fb9"/><path d="M127.5 580.5l5 -4 4 1 3 3.6z" fill="#1f6fb9"/><polygon points="140.9,583.9 147.0,582.8 147.0,610.5 140.9,613.8" fill="#1758a0"/><polygon points="126.5,579.5 132.5,578.0 147.0,582.8 140.9,583.9" fill="#2a7cc4"/><polygon points="126.5,579.5 140.9,583.9 140.9,613.8 127.1,608.9" fill="#2272bb"/><polygon points="129.1,583.2 138.9,586.3 138.9,595.8 129.3,592.7" fill="#e8f1f8"/><polygon points="129.6,595.7 132.0,596.5 132.0,598.0 129.7,597.2" fill="#dfeefa"/><polygon points="133.2,596.9 135.5,597.7 135.6,599.2 133.2,598.4" fill="#dfeefa"/><polygon points="136.7,598.0 139.1,598.8 139.1,600.3 136.7,599.5" fill="#dfeefa"/><polygon points="129.7,598.7 132.1,599.5 132.1,600.9 129.7,600.1" fill="#dfeefa"/><polygon points="133.2,599.8 135.6,600.6 135.6,602.1 133.2,601.3" fill="#dfeefa"/><polygon points="136.7,601.0 139.1,601.8 139.1,603.3 136.7,602.5" fill="#dfeefa"/><polygon points="129.7,601.6 132.1,602.4 132.1,603.9 129.7,603.1" fill="#dfeefa"/><polygon points="133.2,602.8 135.6,603.6 135.6,605.1 133.2,604.3" fill="#dfeefa"/><polygon points="136.7,604.0 139.1,604.8 139.1,606.3 136.7,605.5" fill="#dfeefa"/><polygon points="129.8,604.6 132.1,605.4 132.2,606.9 129.8,606.0" fill="#dfeefa"/><polygon points="133.3,605.8 135.6,606.6 135.6,608.1 133.3,607.3" fill="#dfeefa"/><polygon points="136.7,607.0 139.1,607.8 139.1,609.3 136.7,608.5" fill="#dfeefa"/></g></g>
<g transform="translate(0 0)"><g><path d="M234.5 605.0C235.0 599.7 245.0 596.8 257.1 597.0L267.7 603.3L264.7 609.3C257.3 613.8 238.9 612.8 234.5 605.0Z" fill="#1f7cc3"/><path d="M258.3 596.2C259.3 591.0 267.5 588.2 275.7 588.5C282.9 588.8 289.1 591.5 289.6 594.6C288.0 598.7 280.9 601.3 273.7 601.3C267.5 601.3 261.4 599.7 258.3 596.2Z" fill="#2583c8"/><path d="M264.0 609.5C267.0 604.9 272.7 602.8 279.8 603.1C288.0 603.5 295.2 606.4 296.7 611.0C294.2 615.6 287.0 617.9 279.8 617.7C271.6 617.3 266.0 614.1 264.0 609.5Z" fill="#1f7cc3"/><path d="M257.5 597.0L267.7 603.3L264.5 609.3" fill="none" stroke="#d5e9f7" stroke-width="0.7"/><path d="M267.7 603.3L278.8 602.3" fill="none" stroke="#1a6db3" stroke-width="0.6"/><path d="M266.7 564.4L271.8 564.4L274.9 581.8L279.3 604.9L277.6 608.2L275.2 607.2L272.9 591.5L260.4 591.9L263.2 586.7L261.4 583.5L264.3 581.6Z" fill="#1c74bb"/><path d="M268.8 578.7L270.6 585.7L268.2 586.1Z" fill="#5fb0e6"/><circle cx="269.1" cy="562.3" r="3.3" fill="#1f7cc3"/><g fill="none" stroke="#1f7cc3" stroke-linecap="round"><path d="M255.2 552.6Q250.9 559.8 256.1 568.3" stroke-width="2.5"/><path d="M260.4 557.0Q257.3 561.1 261.4 565.6" stroke-width="2.0"/><path d="M263.2 560.5Q262.2 562.3 264.1 564.0" stroke-width="1.5"/><path d="M274.9 567.3Q277.6 570.0 275.5 573.4" stroke-width="1.6"/><path d="M277.0 565.6Q281.7 570.5 277.6 575.5" stroke-width="2.0"/><path d="M280.3 563.6Q287.8 572.1 281.1 579.2" stroke-width="2.5"/></g></g></g>
<g transform="translate(0 0)"><g><polygon points="162.1,632.0 195.1,627.1 204.8,631.5 204.8,672.6 162.1,672.6" fill="#155cab"/><polygon points="162.1,632.0 195.1,627.1 204.8,631.5 170.9,635.9" fill="#2a7fc8"/><polygon points="170.9,635.9 204.5,632.0 204.5,672.6 170.9,672.6" fill="#1a6bbd"/><polygon points="173.8,640.7 201.4,637.3 201.4,649.4 173.8,653.8" fill="#e2e2e2"/><polygon points="190.5,634.6 201.6,633.2 201.6,634.4 190.5,635.8" fill="#e8f2fa"/><circle cx="174.6" cy="637.2" r="0.8" fill="#cfe5f5"/><circle cx="174.9" cy="658.8" r="1.35" fill="#eef6fc"/><circle cx="179.0" cy="658.3" r="1.35" fill="#eef6fc"/><circle cx="183.1" cy="657.7" r="1.35" fill="#eef6fc"/><circle cx="187.2" cy="657.2" r="1.35" fill="#eef6fc"/><circle cx="191.2" cy="656.7" r="1.35" fill="#eef6fc"/><circle cx="195.3" cy="656.1" r="1.35" fill="#eef6fc"/><circle cx="199.4" cy="655.6" r="1.35" fill="#eef6fc"/><circle cx="174.9" cy="663.5" r="1.35" fill="#eef6fc"/><circle cx="179.0" cy="663.0" r="1.35" fill="#eef6fc"/><circle cx="183.1" cy="662.5" r="1.35" fill="#eef6fc"/><circle cx="187.2" cy="662.0" r="1.35" fill="#eef6fc"/><circle cx="191.2" cy="661.4" r="1.35" fill="#eef6fc"/><circle cx="195.3" cy="660.9" r="1.35" fill="#eef6fc"/><circle cx="199.4" cy="660.4" r="1.35" fill="#eef6fc"/><circle cx="174.9" cy="668.2" r="1.35" fill="#eef6fc"/><circle cx="179.0" cy="667.7" r="1.35" fill="#eef6fc"/><circle cx="183.1" cy="667.2" r="1.35" fill="#eef6fc"/><circle cx="187.2" cy="666.7" r="1.35" fill="#eef6fc"/><circle cx="191.2" cy="666.2" r="1.35" fill="#eef6fc"/><circle cx="195.3" cy="665.7" r="1.35" fill="#eef6fc"/><circle cx="199.4" cy="665.2" r="1.35" fill="#eef6fc"/></g></g>
<g transform="translate(819 0)"><g><rect x="112.8" y="558.0" width="3.2" height="22" rx="1.4" fill="#1f6fb9"/><path d="M100.4 577.0l5 -4 4 1 3 3.6z" fill="#1f6fb9"/><polygon points="113.8,580.4 119.9,579.3 119.9,607.0 113.8,610.3" fill="#1758a0"/><polygon points="99.4,576.0 105.4,574.5 119.9,579.3 113.8,580.4" fill="#2a7cc4"/><polygon points="99.4,576.0 113.8,580.4 113.8,610.3 100.0,605.4" fill="#2272bb"/><polygon points="102.0,579.7 111.8,582.8 111.8,592.3 102.2,589.2" fill="#e8f1f8"/><polygon points="102.5,592.2 104.9,593.0 104.9,594.5 102.6,593.7" fill="#dfeefa"/><polygon points="106.1,593.4 108.4,594.2 108.5,595.7 106.1,594.9" fill="#dfeefa"/><polygon points="109.6,594.5 112.0,595.3 112.0,596.8 109.6,596.0" fill="#dfeefa"/><polygon points="102.6,595.2 105.0,596.0 105.0,597.4 102.6,596.6" fill="#dfeefa"/><polygon points="106.1,596.3 108.5,597.1 108.5,598.6 106.1,597.8" fill="#dfeefa"/><polygon points="109.6,597.5 112.0,598.3 112.0,599.8 109.6,599.0" fill="#dfeefa"/><polygon points="102.6,598.1 105.0,598.9 105.0,600.4 102.6,599.6" fill="#dfeefa"/><polygon points="106.1,599.3 108.5,600.1 108.5,601.6 106.1,600.8" fill="#dfeefa"/><polygon points="109.6,600.5 112.0,601.3 112.0,602.8 109.6,602.0" fill="#dfeefa"/><polygon points="102.7,601.1 105.0,601.9 105.1,603.4 102.7,602.5" fill="#dfeefa"/><polygon points="106.2,602.3 108.5,603.1 108.5,604.6 106.2,603.8" fill="#dfeefa"/><polygon points="109.6,603.5 112.0,604.3 112.0,605.8 109.6,605.0" fill="#dfeefa"/><rect x="139.9" y="561.5" width="3.2" height="22" rx="1.4" fill="#1f6fb9"/><path d="M127.5 580.5l5 -4 4 1 3 3.6z" fill="#1f6fb9"/><polygon points="140.9,583.9 147.0,582.8 147.0,610.5 140.9,613.8" fill="#1758a0"/><polygon points="126.5,579.5 132.5,578.0 147.0,582.8 140.9,583.9" fill="#2a7cc4"/><polygon points="126.5,579.5 140.9,583.9 140.9,613.8 127.1,608.9" fill="#2272bb"/><polygon points="129.1,583.2 138.9,586.3 138.9,595.8 129.3,592.7" fill="#e8f1f8"/><polygon points="129.6,595.7 132.0,596.5 132.0,598.0 129.7,597.2" fill="#dfeefa"/><polygon points="133.2,596.9 135.5,597.7 135.6,599.2 133.2,598.4" fill="#dfeefa"/><polygon points="136.7,598.0 139.1,598.8 139.1,600.3 136.7,599.5" fill="#dfeefa"/><polygon points="129.7,598.7 132.1,599.5 132.1,600.9 129.7,600.1" fill="#dfeefa"/><polygon points="133.2,599.8 135.6,600.6 135.6,602.1 133.2,601.3" fill="#dfeefa"/><polygon points="136.7,601.0 139.1,601.8 139.1,603.3 136.7,602.5" fill="#dfeefa"/><polygon points="129.7,601.6 132.1,602.4 132.1,603.9 129.7,603.1" fill="#dfeefa"/><polygon points="133.2,602.8 135.6,603.6 135.6,605.1 133.2,604.3" fill="#dfeefa"/><polygon points="136.7,604.0 139.1,604.8 139.1,606.3 136.7,605.5" fill="#dfeefa"/><polygon points="129.8,604.6 132.1,605.4 132.2,606.9 129.8,606.0" fill="#dfeefa"/><polygon points="133.3,605.8 135.6,606.6 135.6,608.1 133.3,607.3" fill="#dfeefa"/><polygon points="136.7,607.0 139.1,607.8 139.1,609.3 136.7,608.5" fill="#dfeefa"/></g></g>
<g transform="translate(818 0)"><g><path d="M234.5 605.0C235.0 599.7 245.0 596.8 257.1 597.0L267.7 603.3L264.7 609.3C257.3 613.8 238.9 612.8 234.5 605.0Z" fill="#1f7cc3"/><path d="M258.3 596.2C259.3 591.0 267.5 588.2 275.7 588.5C282.9 588.8 289.1 591.5 289.6 594.6C288.0 598.7 280.9 601.3 273.7 601.3C267.5 601.3 261.4 599.7 258.3 596.2Z" fill="#2583c8"/><path d="M264.0 609.5C267.0 604.9 272.7 602.8 279.8 603.1C288.0 603.5 295.2 606.4 296.7 611.0C294.2 615.6 287.0 617.9 279.8 617.7C271.6 617.3 266.0 614.1 264.0 609.5Z" fill="#1f7cc3"/><path d="M257.5 597.0L267.7 603.3L264.5 609.3" fill="none" stroke="#d5e9f7" stroke-width="0.7"/><path d="M267.7 603.3L278.8 602.3" fill="none" stroke="#1a6db3" stroke-width="0.6"/><path d="M266.7 564.4L271.8 564.4L274.9 581.8L279.3 604.9L277.6 608.2L275.2 607.2L272.9 591.5L260.4 591.9L263.2 586.7L261.4 583.5L264.3 581.6Z" fill="#1c74bb"/><path d="M268.8 578.7L270.6 585.7L268.2 586.1Z" fill="#5fb0e6"/><circle cx="269.1" cy="562.3" r="3.3" fill="#1f7cc3"/><g fill="none" stroke="#1f7cc3" stroke-linecap="round"><path d="M255.2 552.6Q250.9 559.8 256.1 568.3" stroke-width="2.5"/><path d="M260.4 557.0Q257.3 561.1 261.4 565.6" stroke-width="2.0"/><path d="M263.2 560.5Q262.2 562.3 264.1 564.0" stroke-width="1.5"/><path d="M274.9 567.3Q277.6 570.0 275.5 573.4" stroke-width="1.6"/><path d="M277.0 565.6Q281.7 570.5 277.6 575.5" stroke-width="2.0"/><path d="M280.3 563.6Q287.8 572.1 281.1 579.2" stroke-width="2.5"/></g></g></g>
<g transform="translate(822.4 0)"><g><polygon points="162.1,632.0 195.1,627.1 204.8,631.5 204.8,672.6 162.1,672.6" fill="#155cab"/><polygon points="162.1,632.0 195.1,627.1 204.8,631.5 170.9,635.9" fill="#2a7fc8"/><polygon points="170.9,635.9 204.5,632.0 204.5,672.6 170.9,672.6" fill="#1a6bbd"/><polygon points="173.8,640.7 201.4,637.3 201.4,649.4 173.8,653.8" fill="#e2e2e2"/><polygon points="190.5,634.6 201.6,633.2 201.6,634.4 190.5,635.8" fill="#e8f2fa"/><circle cx="174.6" cy="637.2" r="0.8" fill="#cfe5f5"/><circle cx="174.9" cy="658.8" r="1.35" fill="#eef6fc"/><circle cx="179.0" cy="658.3" r="1.35" fill="#eef6fc"/><circle cx="183.1" cy="657.7" r="1.35" fill="#eef6fc"/><circle cx="187.2" cy="657.2" r="1.35" fill="#eef6fc"/><circle cx="191.2" cy="656.7" r="1.35" fill="#eef6fc"/><circle cx="195.3" cy="656.1" r="1.35" fill="#eef6fc"/><circle cx="199.4" cy="655.6" r="1.35" fill="#eef6fc"/><circle cx="174.9" cy="663.5" r="1.35" fill="#eef6fc"/><circle cx="179.0" cy="663.0" r="1.35" fill="#eef6fc"/><circle cx="183.1" cy="662.5" r="1.35" fill="#eef6fc"/><circle cx="187.2" cy="662.0" r="1.35" fill="#eef6fc"/><circle cx="191.2" cy="661.4" r="1.35" fill="#eef6fc"/><circle cx="195.3" cy="660.9" r="1.35" fill="#eef6fc"/><circle cx="199.4" cy="660.4" r="1.35" fill="#eef6fc"/><circle cx="174.9" cy="668.2" r="1.35" fill="#eef6fc"/><circle cx="179.0" cy="667.7" r="1.35" fill="#eef6fc"/><circle cx="183.1" cy="667.2" r="1.35" fill="#eef6fc"/><circle cx="187.2" cy="666.7" r="1.35" fill="#eef6fc"/><circle cx="191.2" cy="666.2" r="1.35" fill="#eef6fc"/><circle cx="195.3" cy="665.7" r="1.35" fill="#eef6fc"/><circle cx="199.4" cy="665.2" r="1.35" fill="#eef6fc"/></g></g>
<text x="160.5" y="565.9" font-size="19.0" fill="#141414" stroke="#141414" stroke-width="0.3">手持台</text>
<text x="287.5" y="565.9" font-size="19.0" fill="#141414" stroke="#141414" stroke-width="0.3">基站</text>
<text x="85.0" y="649.7" font-size="19.0" fill="#141414" stroke="#141414" stroke-width="0.3">车载台</text>
<text x="978.0" y="565.9" font-size="19.0" fill="#141414" stroke="#141414" stroke-width="0.3">手持台</text>
<text x="1104.0" y="565.9" font-size="19.0" fill="#141414" stroke="#141414" stroke-width="0.3">基站</text>
<text x="904.7" y="649.7" font-size="19.0" fill="#141414" stroke="#141414" stroke-width="0.3">车载台</text>
</svg>
</body>
</html>
